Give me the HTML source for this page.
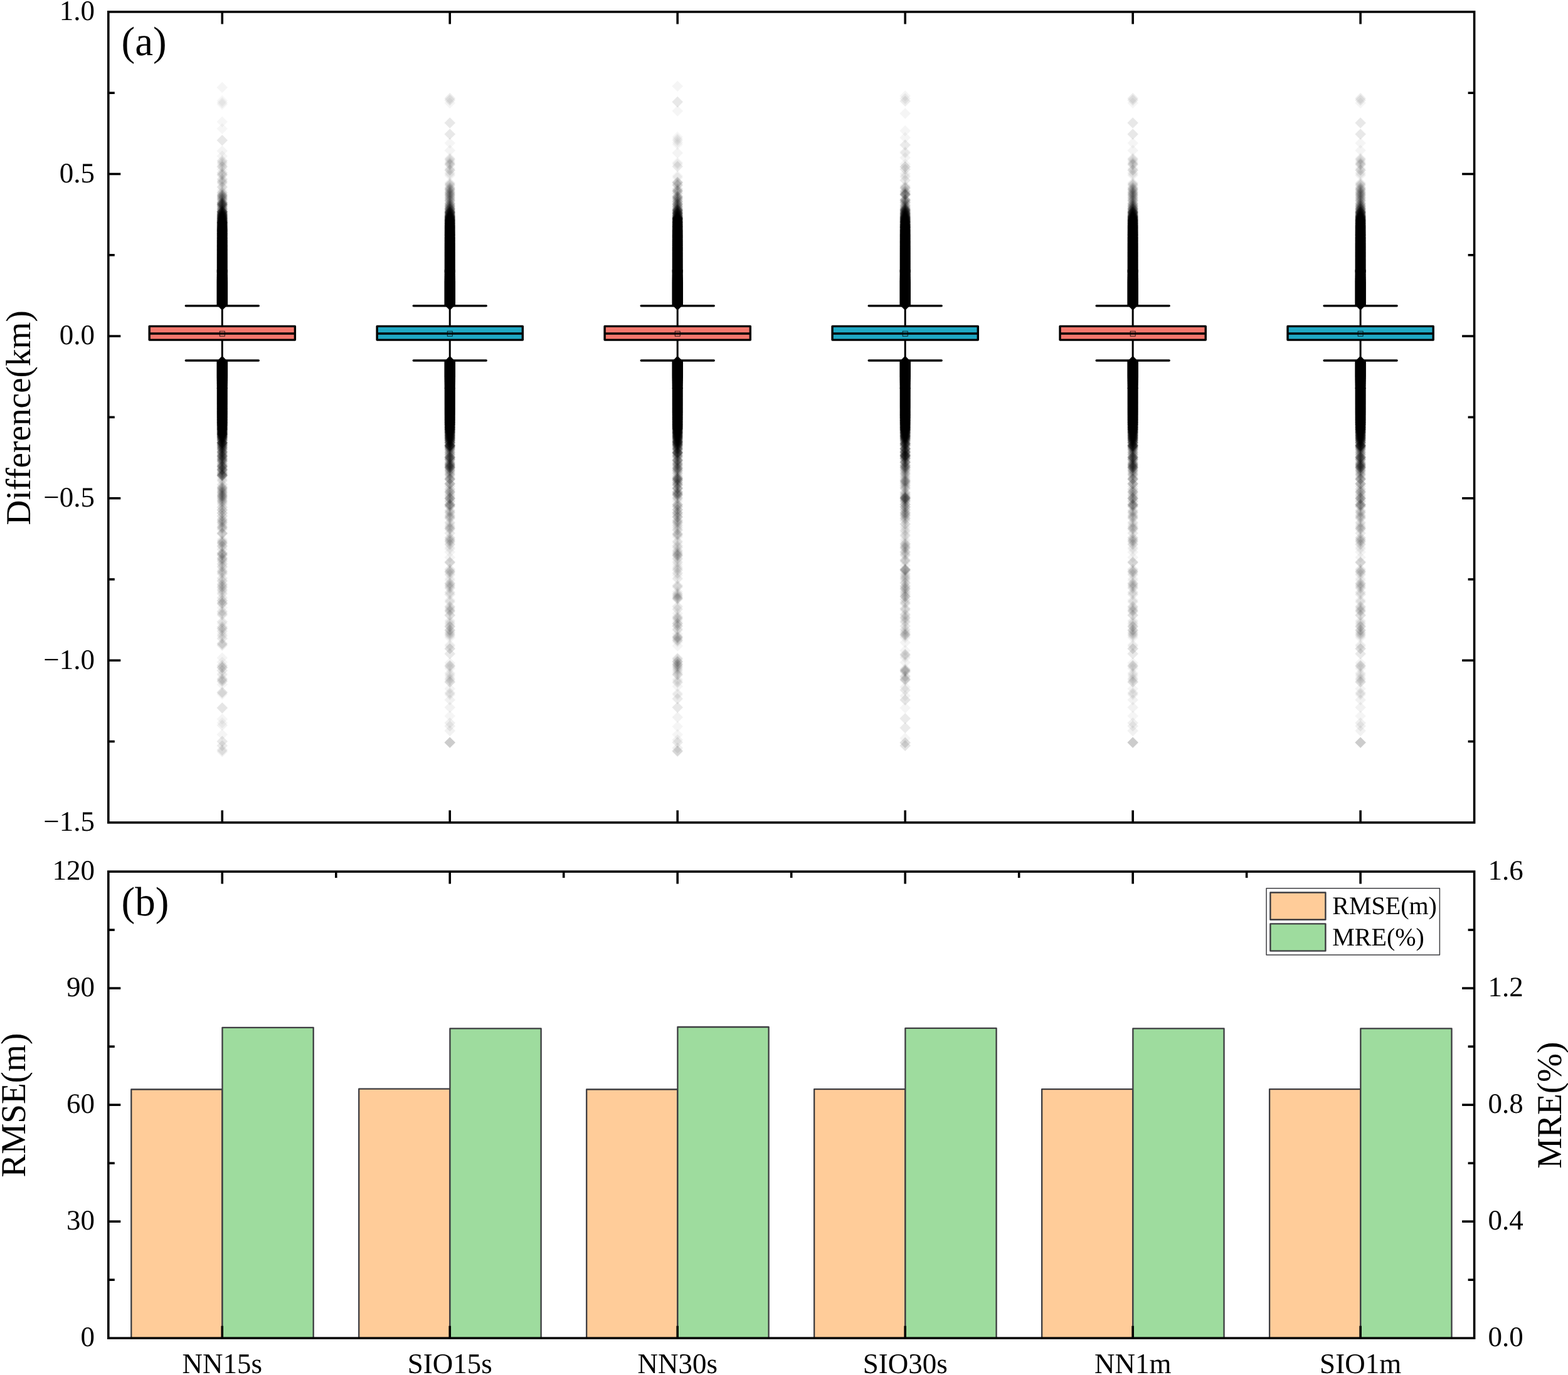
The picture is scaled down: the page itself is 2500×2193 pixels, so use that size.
<!DOCTYPE html>
<html lang="en"><head><meta charset="utf-8"><title>Difference, RMSE and MRE by model</title>
<style>html,body{margin:0;padding:0;background:#fff}body{width:2500px;height:2193px;overflow:hidden}svg{display:block}text{font-family:"Liberation Serif",serif;fill:#000;text-rendering:geometricPrecision}.tk{font-size:45px}.ax{font-size:55.2px}.pl{font-size:65px}.lg{font-size:40px}</style></head><body>
<svg width="2500" height="2193" viewBox="0 0 2500 2193">
<rect width="2500" height="2193" fill="#fff"/>
<g stroke="#3C3C40" stroke-width="2.3" stroke-linejoin="round">
<rect x="209.28" y="1737.5" width="145.2" height="396.7" fill="#FFCC99"/>
<rect x="354.48" y="1638.8" width="145.2" height="495.4" fill="#9EDC9E"/>
<rect x="572.25" y="1736.7" width="145.2" height="397.5" fill="#FFCC99"/>
<rect x="717.45" y="1640.3" width="145.2" height="493.9" fill="#9EDC9E"/>
<rect x="935.22" y="1737.5" width="145.2" height="396.7" fill="#FFCC99"/>
<rect x="1080.42" y="1638" width="145.2" height="496.2" fill="#9EDC9E"/>
<rect x="1298.18" y="1737.1" width="145.2" height="397.1" fill="#FFCC99"/>
<rect x="1443.38" y="1639.9" width="145.2" height="494.3" fill="#9EDC9E"/>
<rect x="1661.15" y="1737.1" width="145.2" height="397.1" fill="#FFCC99"/>
<rect x="1806.35" y="1640.3" width="145.2" height="493.9" fill="#9EDC9E"/>
<rect x="2024.12" y="1737.1" width="145.2" height="397.1" fill="#FFCC99"/>
<rect x="2169.32" y="1640.3" width="145.2" height="493.9" fill="#9EDC9E"/>
</g>
<defs><path id="d" d="M0 -8.8 L8.8 0 L0 8.8 L-8.8 0Z"/></defs>
<g transform="translate(354.28 0)" fill="#000">
<path d="M-8.5 430 H8.5 L8.8 450 V486.3 L0 495.1 L-8.8 486.3 V450Z"/>
<path d="M0 567.6 L8.8 576.4 V600 L8.5 620 H-8.5 L-8.8 600 V576.4Z"/>
<use href="#d" y="139.4" opacity=".04"/>
<use href="#d" y="160.5" opacity=".03"/>
<use href="#d" y="163.7" opacity=".045"/>
<use href="#d" y="166.5" opacity=".03"/>
<use href="#d" y="194.2" opacity=".035"/>
<use href="#d" y="205.3" opacity=".035"/>
<use href="#d" y="223.7" opacity=".09"/>
<use href="#d" y="240.8" opacity=".042"/>
<use href="#d" y="248.9" opacity=".042"/>
<use href="#d" y="256" opacity=".042"/>
<use href="#d" y="256.7" opacity=".042"/>
<use href="#d" y="258.8" opacity=".042"/>
<use href="#d" y="260" opacity=".042"/>
<use href="#d" y="262.7" opacity=".042"/>
<use href="#d" y="265.4" opacity=".082"/>
<use href="#d" y="266.6" opacity=".042"/>
<use href="#d" y="270.3" opacity=".042"/>
<use href="#d" y="275.6" opacity=".082"/>
<use href="#d" y="278.3" opacity=".121"/>
<use href="#d" y="280.2" opacity=".042"/>
<use href="#d" y="285.4" opacity=".042"/>
<use href="#d" y="286.1" opacity=".042"/>
<use href="#d" y="288" opacity=".042"/>
<use href="#d" y="289.4" opacity=".042"/>
<use href="#d" y="290.3" opacity=".042"/>
<use href="#d" y="291.1" opacity=".042"/>
<use href="#d" y="292.8" opacity=".042"/>
<use href="#d" y="297" opacity=".042"/>
<use href="#d" y="298.5" opacity=".042"/>
<use href="#d" y="299.1" opacity=".042"/>
<use href="#d" y="303.3" opacity=".042"/>
<use href="#d" y="306.3" opacity=".042"/>
<use href="#d" y="307.2" opacity=".042"/>
<use href="#d" y="307.5" opacity=".042"/>
<use href="#d" y="309.5" opacity=".042"/>
<use href="#d" y="310" opacity=".042"/>
<use href="#d" y="310.7" opacity=".042"/>
<use href="#d" y="311.7" opacity=".158"/>
<use href="#d" y="313" opacity=".042"/>
<use href="#d" y="314.1" opacity=".158"/>
<use href="#d" y="316.2" opacity=".158"/>
<use href="#d" y="317.7" opacity=".042"/>
<use href="#d" y="318.5" opacity=".121"/>
<use href="#d" y="320.2" opacity=".082"/>
<use href="#d" y="322.3" opacity=".042"/>
<use href="#d" y="322.9" opacity=".193"/>
<use href="#d" y="324.1" opacity=".082"/>
<use href="#d" y="324.9" opacity=".227"/>
<use href="#d" y="326.2" opacity=".227"/>
<use href="#d" y="327" opacity=".158"/>
<use href="#d" y="328.1" opacity=".121"/>
<use href="#d" y="329.5" opacity=".193"/>
<use href="#d" y="330.9" opacity=".082"/>
<use href="#d" y="331.7" opacity=".042"/>
<use href="#d" y="332.8" opacity=".193"/>
<use href="#d" y="334.1" opacity=".082"/>
<use href="#d" y="334.7" opacity=".193"/>
<use href="#d" y="336.5" opacity=".121"/>
<use href="#d" y="337.4" opacity=".259"/>
<use href="#d" y="337.7" opacity=".32"/>
<use href="#d" y="339" opacity=".243"/>
<use href="#d" y="340" opacity=".269"/>
<use href="#d" y="341" opacity=".31"/>
<use href="#d" y="342" opacity=".262"/>
<use href="#d" y="343" opacity=".43"/>
<use href="#d" y="344" opacity=".322"/>
<use href="#d" y="345" opacity=".348"/>
<use href="#d" y="346" opacity=".428"/>
<use href="#d" y="347" opacity=".374"/>
<use href="#d" y="348" opacity=".395"/>
<use href="#d" y="349" opacity=".537"/>
<use href="#d" y="350" opacity=".335"/>
<use href="#d" y="351" opacity=".432"/>
<use href="#d" y="352" opacity=".532"/>
<use href="#d" y="353" opacity=".438"/>
<use href="#d" y="354" opacity=".549"/>
<use href="#d" y="355" opacity=".78"/>
<use href="#d" y="356" opacity=".533"/>
<use href="#d" y="357" opacity=".612"/>
<use href="#d" y="358" opacity=".546"/>
<use href="#d" y="359" opacity=".585"/>
<use href="#d" y="360" opacity=".612"/>
<use href="#d" y="361" opacity=".603"/>
<use href="#d" y="362" opacity=".656"/>
<use href="#d" y="363" opacity=".692"/>
<use href="#d" y="364" opacity=".627"/>
<use href="#d" y="365" opacity=".794"/>
<use href="#d" y="366" opacity=".754"/>
<use href="#d" y="367" opacity=".772"/>
<use href="#d" y="368" opacity=".859"/>
<use href="#d" y="369" opacity=".775"/>
<use href="#d" y="370" opacity=".747"/>
<use href="#d" y="371" opacity=".712"/>
<use href="#d" y="372" opacity=".768"/>
<use href="#d" y="373" opacity=".927"/>
<use href="#d" y="374" opacity=".673"/>
<use href="#d" y="375" opacity=".828"/>
<use href="#d" y="376" opacity=".8"/>
<use href="#d" y="377" opacity=".706"/>
<use href="#d" y="378" opacity=".723"/>
<use href="#d" y="379" opacity=".849"/>
<use href="#d" y="380" opacity=".817"/>
<use href="#d" y="381" opacity=".884"/>
<use href="#d" y="382" opacity=".623"/>
<use href="#d" y="383" opacity=".967"/>
<use href="#d" y="384" opacity=".906"/>
<use href="#d" y="385" opacity=".878"/>
<use href="#d" y="386" opacity=".889"/>
<use href="#d" y="387" opacity=".966"/>
<use href="#d" y="388" opacity=".763"/>
<use href="#d" y="389" opacity=".958"/>
<use href="#d" y="390" opacity=".81"/>
<use href="#d" y="391" opacity=".952"/>
<use href="#d" y="392" opacity=".978"/>
<use href="#d" y="393" opacity=".963"/>
<use href="#d" y="394" opacity=".941"/>
<use href="#d" y="395" opacity=".9"/>
<use href="#d" y="396" opacity=".936"/>
<use href="#d" y="397" opacity=".947"/>
<use href="#d" y="398" opacity=".993"/>
<use href="#d" y="399" opacity=".999"/>
<use href="#d" y="400" opacity=".936"/>
<use href="#d" y="401" opacity=".925"/>
<use href="#d" y="402" opacity=".945"/>
<use href="#d" y="403" opacity=".935"/>
<use href="#d" y="404" opacity=".946"/>
<use href="#d" y="405" opacity=".939"/>
<use href="#d" y="406" opacity=".987"/>
<use href="#d" y="407" opacity=".982"/>
<use href="#d" y="408" opacity=".949"/>
<use href="#d" y="409" opacity=".985"/>
<use href="#d" y="410" opacity=".983"/>
<use href="#d" y="411" opacity=".988"/>
<use href="#d" y="412" opacity=".993"/>
<use href="#d" y="413" opacity=".989"/>
<use href="#d" y="414" opacity=".998"/>
<use href="#d" y="415" opacity=".984"/>
<use href="#d" y="416" opacity=".985"/>
<use href="#d" y="417" opacity=".988"/>
<use href="#d" y="418" opacity=".999"/>
<use href="#d" y="419" opacity=".998"/>
<use href="#d" y="420" opacity="1"/>
<use href="#d" y="421" opacity=".975"/>
<use href="#d" y="422" opacity=".998"/>
<use href="#d" y="423" opacity=".998"/>
<use href="#d" y="424" opacity=".996"/>
<use href="#d" y="425" opacity=".995"/>
<use href="#d" y="426" opacity=".998"/>
<use href="#d" y="427" opacity=".997"/>
<use href="#d" y="428" opacity=".988"/>
<use href="#d" y="429" opacity=".997"/>
<use href="#d" y="430" opacity=".997"/>
<use href="#d" y="431" opacity=".999"/>
<use href="#d" y="432" opacity=".994"/>
<use href="#d" y="433" opacity=".997"/>
<use href="#d" y="434" opacity=".986"/>
<use href="#d" y="619" opacity=".999"/>
<use href="#d" y="620" opacity="1"/>
<use href="#d" y="621" opacity=".989"/>
<use href="#d" y="622" opacity=".989"/>
<use href="#d" y="623" opacity="1"/>
<use href="#d" y="624" opacity="1"/>
<use href="#d" y="625" opacity=".999"/>
<use href="#d" y="626" opacity=".998"/>
<use href="#d" y="627" opacity=".998"/>
<use href="#d" y="628" opacity="1"/>
<use href="#d" y="629" opacity=".994"/>
<use href="#d" y="630" opacity=".999"/>
<use href="#d" y="631" opacity=".992"/>
<use href="#d" y="632" opacity=".992"/>
<use href="#d" y="633" opacity=".993"/>
<use href="#d" y="634" opacity=".987"/>
<use href="#d" y="635" opacity=".981"/>
<use href="#d" y="636" opacity=".99"/>
<use href="#d" y="637" opacity=".994"/>
<use href="#d" y="638" opacity=".997"/>
<use href="#d" y="639" opacity=".969"/>
<use href="#d" y="640" opacity=".991"/>
<use href="#d" y="641" opacity=".959"/>
<use href="#d" y="642" opacity=".991"/>
<use href="#d" y="643" opacity=".987"/>
<use href="#d" y="644" opacity=".988"/>
<use href="#d" y="645" opacity=".947"/>
<use href="#d" y="646" opacity=".94"/>
<use href="#d" y="647" opacity=".89"/>
<use href="#d" y="648" opacity=".958"/>
<use href="#d" y="649" opacity=".902"/>
<use href="#d" y="650" opacity=".91"/>
<use href="#d" y="651" opacity=".966"/>
<use href="#d" y="652" opacity=".991"/>
<use href="#d" y="653" opacity=".976"/>
<use href="#d" y="654" opacity=".836"/>
<use href="#d" y="655" opacity=".931"/>
<use href="#d" y="656" opacity=".969"/>
<use href="#d" y="657" opacity=".959"/>
<use href="#d" y="658" opacity=".91"/>
<use href="#d" y="659" opacity=".985"/>
<use href="#d" y="660" opacity=".909"/>
<use href="#d" y="661" opacity=".927"/>
<use href="#d" y="662" opacity=".921"/>
<use href="#d" y="663" opacity=".873"/>
<use href="#d" y="664" opacity=".814"/>
<use href="#d" y="665" opacity=".944"/>
<use href="#d" y="666" opacity=".914"/>
<use href="#d" y="667" opacity=".705"/>
<use href="#d" y="668" opacity=".881"/>
<use href="#d" y="669" opacity=".862"/>
<use href="#d" y="670" opacity=".851"/>
<use href="#d" y="671" opacity=".776"/>
<use href="#d" y="672" opacity=".754"/>
<use href="#d" y="673" opacity=".793"/>
<use href="#d" y="674" opacity=".855"/>
<use href="#d" y="675" opacity=".895"/>
<use href="#d" y="676" opacity=".583"/>
<use href="#d" y="677" opacity=".773"/>
<use href="#d" y="678" opacity=".751"/>
<use href="#d" y="679" opacity=".671"/>
<use href="#d" y="680" opacity=".542"/>
<use href="#d" y="681" opacity=".611"/>
<use href="#d" y="682" opacity=".565"/>
<use href="#d" y="683" opacity=".636"/>
<use href="#d" y="684" opacity=".592"/>
<use href="#d" y="685" opacity=".663"/>
<use href="#d" y="686" opacity=".555"/>
<use href="#d" y="687" opacity=".4"/>
<use href="#d" y="688" opacity=".474"/>
<use href="#d" y="689" opacity=".496"/>
<use href="#d" y="690" opacity=".485"/>
<use href="#d" y="691" opacity=".467"/>
<use href="#d" y="692" opacity=".558"/>
<use href="#d" y="693" opacity=".575"/>
<use href="#d" y="694" opacity=".355"/>
<use href="#d" y="695" opacity=".37"/>
<use href="#d" y="696" opacity=".347"/>
<use href="#d" y="697" opacity=".393"/>
<use href="#d" y="698" opacity=".282"/>
<use href="#d" y="699" opacity=".294"/>
<use href="#d" y="700" opacity=".227"/>
<use href="#d" y="701" opacity=".202"/>
<use href="#d" y="702" opacity=".263"/>
<use href="#d" y="703" opacity=".18"/>
<use href="#d" y="704" opacity=".121"/>
<use href="#d" y="705.4" opacity=".193"/>
<use href="#d" y="706.3" opacity=".402"/>
<use href="#d" y="706.8" opacity=".291"/>
<use href="#d" y="707.9" opacity=".042"/>
<use href="#d" y="709" opacity=".259"/>
<use href="#d" y="710.1" opacity=".227"/>
<use href="#d" y="710.7" opacity=".121"/>
<use href="#d" y="712.4" opacity=".082"/>
<use href="#d" y="713.1" opacity=".259"/>
<use href="#d" y="714" opacity=".121"/>
<use href="#d" y="715.4" opacity=".121"/>
<use href="#d" y="716.2" opacity=".158"/>
<use href="#d" y="716.5" opacity=".121"/>
<use href="#d" y="717.7" opacity=".042"/>
<use href="#d" y="719.5" opacity=".158"/>
<use href="#d" y="720" opacity=".121"/>
<use href="#d" y="721.5" opacity=".193"/>
<use href="#d" y="722" opacity=".121"/>
<use href="#d" y="723" opacity=".042"/>
<use href="#d" y="724" opacity=".082"/>
<use href="#d" y="725" opacity=".121"/>
<use href="#d" y="726.4" opacity=".158"/>
<use href="#d" y="727.2" opacity=".121"/>
<use href="#d" y="727.7" opacity=".158"/>
<use href="#d" y="728.6" opacity=".121"/>
<use href="#d" y="730" opacity=".121"/>
<use href="#d" y="731.2" opacity=".042"/>
<use href="#d" y="731.7" opacity=".121"/>
<use href="#d" y="732.6" opacity=".121"/>
<use href="#d" y="733.8" opacity=".158"/>
<use href="#d" y="735" opacity=".158"/>
<use href="#d" y="736.4" opacity=".158"/>
<use href="#d" y="739.3" opacity=".121"/>
<use href="#d" y="740.8" opacity=".082"/>
<use href="#d" y="741.9" opacity=".121"/>
<use href="#d" y="743.2" opacity=".082"/>
<use href="#d" y="743.8" opacity=".227"/>
<use href="#d" y="744.9" opacity=".121"/>
<use href="#d" y="745.9" opacity=".042"/>
<use href="#d" y="747.1" opacity=".042"/>
<use href="#d" y="748.3" opacity=".158"/>
<use href="#d" y="749" opacity=".082"/>
<use href="#d" y="749.6" opacity=".158"/>
<use href="#d" y="750.6" opacity=".082"/>
<use href="#d" y="752.1" opacity=".082"/>
<use href="#d" y="753.7" opacity=".082"/>
<use href="#d" y="754.8" opacity=".121"/>
<use href="#d" y="756.2" opacity=".121"/>
<use href="#d" y="757.2" opacity=".121"/>
<use href="#d" y="758.2" opacity=".227"/>
<use href="#d" y="758.6" opacity=".082"/>
<use href="#d" y="759.7" opacity=".082"/>
<use href="#d" y="762.5" opacity=".042"/>
<use href="#d" y="765.6" opacity=".082"/>
<use href="#d" y="767.4" opacity=".042"/>
<use href="#d" y="772.7" opacity=".082"/>
<use href="#d" y="776" opacity=".042"/>
<use href="#d" y="776.8" opacity=".042"/>
<use href="#d" y="778" opacity=".082"/>
<use href="#d" y="778.5" opacity=".082"/>
<use href="#d" y="780" opacity=".082"/>
<use href="#d" y="781.5" opacity=".042"/>
<use href="#d" y="781.5" opacity=".042"/>
<use href="#d" y="783.3" opacity=".042"/>
<use href="#d" y="783.7" opacity=".082"/>
<use href="#d" y="785.4" opacity=".042"/>
<use href="#d" y="786" opacity=".121"/>
<use href="#d" y="788.3" opacity=".042"/>
<use href="#d" y="788.8" opacity=".082"/>
<use href="#d" y="790" opacity=".042"/>
<use href="#d" y="790.8" opacity=".121"/>
<use href="#d" y="792.3" opacity=".121"/>
<use href="#d" y="794.3" opacity=".082"/>
<use href="#d" y="794.6" opacity=".042"/>
<use href="#d" y="796.2" opacity=".042"/>
<use href="#d" y="796.6" opacity=".042"/>
<use href="#d" y="798.5" opacity=".042"/>
<use href="#d" y="798.9" opacity=".082"/>
<use href="#d" y="800.1" opacity=".042"/>
<use href="#d" y="801.5" opacity=".042"/>
<use href="#d" y="802.1" opacity=".042"/>
<use href="#d" y="803.8" opacity=".042"/>
<use href="#d" y="805.2" opacity=".042"/>
<use href="#d" y="808.4" opacity=".042"/>
<use href="#d" y="809.3" opacity=".082"/>
<use href="#d" y="812.9" opacity=".082"/>
<use href="#d" y="813.7" opacity=".082"/>
<use href="#d" y="817.4" opacity=".042"/>
<use href="#d" y="818.1" opacity=".042"/>
<use href="#d" y="818.8" opacity=".082"/>
<use href="#d" y="823.1" opacity=".121"/>
<use href="#d" y="826.9" opacity=".042"/>
<use href="#d" y="828.3" opacity=".042"/>
<use href="#d" y="829.3" opacity=".042"/>
<use href="#d" y="830" opacity=".082"/>
<use href="#d" y="832.2" opacity=".082"/>
<use href="#d" y="833.4" opacity=".042"/>
<use href="#d" y="833.6" opacity=".042"/>
<use href="#d" y="835.8" opacity=".042"/>
<use href="#d" y="837" opacity=".042"/>
<use href="#d" y="839.4" opacity=".042"/>
<use href="#d" y="840.1" opacity=".042"/>
<use href="#d" y="841.6" opacity=".121"/>
<use href="#d" y="843.4" opacity=".042"/>
<use href="#d" y="844.7" opacity=".042"/>
<use href="#d" y="850.2" opacity=".121"/>
<use href="#d" y="851.1" opacity=".042"/>
<use href="#d" y="851.7" opacity=".042"/>
<use href="#d" y="860.1" opacity=".042"/>
<use href="#d" y="862.5" opacity=".042"/>
<use href="#d" y="862.9" opacity=".042"/>
<use href="#d" y="864.3" opacity=".042"/>
<use href="#d" y="865.5" opacity=".042"/>
<use href="#d" y="865.9" opacity=".082"/>
<use href="#d" y="867" opacity=".042"/>
<use href="#d" y="869.6" opacity=".042"/>
<use href="#d" y="871.1" opacity=".082"/>
<use href="#d" y="872.1" opacity=".042"/>
<use href="#d" y="875.6" opacity=".042"/>
<use href="#d" y="876.7" opacity=".042"/>
<use href="#d" y="882.3" opacity=".158"/>
<use href="#d" y="884.3" opacity=".121"/>
<use href="#d" y="885.7" opacity=".082"/>
<use href="#d" y="889.9" opacity=".082"/>
<use href="#d" y="890.5" opacity=".042"/>
<use href="#d" y="892" opacity=".042"/>
<use href="#d" y="892.7" opacity=".082"/>
<use href="#d" y="895.3" opacity=".082"/>
<use href="#d" y="899.1" opacity=".082"/>
<use href="#d" y="900.6" opacity=".042"/>
<use href="#d" y="903.6" opacity=".082"/>
<use href="#d" y="904.9" opacity=".042"/>
<use href="#d" y="908.7" opacity=".042"/>
<use href="#d" y="910.9" opacity=".042"/>
<use href="#d" y="911.7" opacity=".082"/>
<use href="#d" y="914.1" opacity=".082"/>
<use href="#d" y="916" opacity=".042"/>
<use href="#d" y="921.8" opacity=".042"/>
<use href="#d" y="922.8" opacity=".042"/>
<use href="#d" y="926" opacity=".082"/>
<use href="#d" y="927.4" opacity=".042"/>
<use href="#d" y="931.2" opacity=".042"/>
<use href="#d" y="932" opacity=".042"/>
<use href="#d" y="933" opacity=".042"/>
<use href="#d" y="934.3" opacity=".042"/>
<use href="#d" y="935.9" opacity=".042"/>
<use href="#d" y="936.7" opacity=".082"/>
<use href="#d" y="939.5" opacity=".042"/>
<use href="#d" y="941.1" opacity=".042"/>
<use href="#d" y="941.7" opacity=".042"/>
<use href="#d" y="943.9" opacity=".042"/>
<use href="#d" y="946.4" opacity=".042"/>
<use href="#d" y="947.3" opacity=".042"/>
<use href="#d" y="952.8" opacity=".042"/>
<use href="#d" y="954.3" opacity=".042"/>
<use href="#d" y="957.9" opacity=".121"/>
<use href="#d" y="961" opacity=".042"/>
<use href="#d" y="962" opacity=".082"/>
<use href="#d" y="962.7" opacity=".042"/>
<use href="#d" y="963.9" opacity=".042"/>
<use href="#d" y="969.2" opacity=".042"/>
<use href="#d" y="974.8" opacity=".042"/>
<use href="#d" y="975.5" opacity=".042"/>
<use href="#d" y="977.8" opacity=".042"/>
<use href="#d" y="979.1" opacity=".042"/>
<use href="#d" y="979.9" opacity=".042"/>
<use href="#d" y="981.3" opacity=".042"/>
<use href="#d" y="991.7" opacity=".082"/>
<use href="#d" y="994.8" opacity=".042"/>
<use href="#d" y="999.9" opacity=".082"/>
<use href="#d" y="1002.3" opacity=".042"/>
<use href="#d" y="1002.8" opacity=".082"/>
<use href="#d" y="1006.3" opacity=".042"/>
<use href="#d" y="1006.9" opacity=".042"/>
<use href="#d" y="1010.8" opacity=".042"/>
<use href="#d" y="1013.2" opacity=".042"/>
<use href="#d" y="1014.6" opacity=".042"/>
<use href="#d" y="1017.9" opacity=".042"/>
<use href="#d" y="1018.8" opacity=".042"/>
<use href="#d" y="1026.2" opacity=".082"/>
<use href="#d" y="1027.2" opacity=".042"/>
<use href="#d" y="1029.1" opacity=".082"/>
<use href="#d" y="1049.2" opacity=".042"/>
<use href="#d" y="1056" opacity=".042"/>
<use href="#d" y="1061.2" opacity=".082"/>
<use href="#d" y="1064.1" opacity=".082"/>
<use href="#d" y="1065.1" opacity=".082"/>
<use href="#d" y="1069.4" opacity=".082"/>
<use href="#d" y="1074.7" opacity=".042"/>
<use href="#d" y="1076.5" opacity=".042"/>
<use href="#d" y="1082.1" opacity=".042"/>
<use href="#d" y="1083.8" opacity=".082"/>
<use href="#d" y="1085.2" opacity=".042"/>
<use href="#d" y="1086.5" opacity=".042"/>
<use href="#d" y="1087.1" opacity=".042"/>
<use href="#d" y="1091.7" opacity=".042"/>
<use href="#d" y="1103.7" opacity=".042"/>
<use href="#d" y="1104.8" opacity=".082"/>
<use href="#d" y="1107.2" opacity=".042"/>
<use href="#d" y="1129.1" opacity=".1"/>
<use href="#d" y="1146.9" opacity=".04"/>
<use href="#d" y="1152.8" opacity=".04"/>
<use href="#d" y="1156.7" opacity=".05"/>
<use href="#d" y="1171.5" opacity=".04"/>
<use href="#d" y="1182.4" opacity=".09"/>
<use href="#d" y="1189.3" opacity=".08"/>
<use href="#d" y="1196.2" opacity=".08"/>
<use href="#d" y="1198.8" opacity=".06"/>
</g>
<g transform="translate(717.25 0)" fill="#000">
<path d="M-8.5 430 H8.5 L8.8 450 V486.3 L0 495.1 L-8.8 486.3 V450Z"/>
<path d="M0 567.6 L8.8 576.4 V600 L8.5 620 H-8.5 L-8.8 600 V576.4Z"/>
<use href="#d" y="156.9" opacity=".07"/>
<use href="#d" y="159.7" opacity=".07"/>
<use href="#d" y="164.2" opacity=".04"/>
<use href="#d" y="196" opacity=".09"/>
<use href="#d" y="214" opacity=".09"/>
<use href="#d" y="228.3" opacity=".04"/>
<use href="#d" y="239.9" opacity=".042"/>
<use href="#d" y="252.4" opacity=".042"/>
<use href="#d" y="254.1" opacity=".042"/>
<use href="#d" y="254.6" opacity=".042"/>
<use href="#d" y="257.1" opacity=".042"/>
<use href="#d" y="259.5" opacity=".042"/>
<use href="#d" y="260.7" opacity=".042"/>
<use href="#d" y="261.6" opacity=".042"/>
<use href="#d" y="262.7" opacity=".082"/>
<use href="#d" y="268.5" opacity=".042"/>
<use href="#d" y="271.3" opacity=".082"/>
<use href="#d" y="271.6" opacity=".042"/>
<use href="#d" y="275.4" opacity=".042"/>
<use href="#d" y="277.5" opacity=".042"/>
<use href="#d" y="279.8" opacity=".042"/>
<use href="#d" y="291.6" opacity=".042"/>
<use href="#d" y="293.1" opacity=".042"/>
<use href="#d" y="293.7" opacity=".042"/>
<use href="#d" y="295.2" opacity=".082"/>
<use href="#d" y="297.9" opacity=".042"/>
<use href="#d" y="299.9" opacity=".121"/>
<use href="#d" y="302.1" opacity=".121"/>
<use href="#d" y="302.7" opacity=".042"/>
<use href="#d" y="303.8" opacity=".042"/>
<use href="#d" y="305.1" opacity=".042"/>
<use href="#d" y="305.8" opacity=".042"/>
<use href="#d" y="306.7" opacity=".082"/>
<use href="#d" y="307.9" opacity=".082"/>
<use href="#d" y="308.9" opacity=".082"/>
<use href="#d" y="310.4" opacity=".082"/>
<use href="#d" y="311.2" opacity=".082"/>
<use href="#d" y="312" opacity=".042"/>
<use href="#d" y="312.9" opacity=".042"/>
<use href="#d" y="314.6" opacity=".121"/>
<use href="#d" y="316.3" opacity=".082"/>
<use href="#d" y="317.2" opacity=".042"/>
<use href="#d" y="317.5" opacity=".042"/>
<use href="#d" y="319.5" opacity=".082"/>
<use href="#d" y="319.6" opacity=".082"/>
<use href="#d" y="321.2" opacity=".042"/>
<use href="#d" y="321.6" opacity=".042"/>
<use href="#d" y="323.3" opacity=".042"/>
<use href="#d" y="324.5" opacity=".121"/>
<use href="#d" y="324.9" opacity=".042"/>
<use href="#d" y="326" opacity=".082"/>
<use href="#d" y="326.8" opacity=".042"/>
<use href="#d" y="327.8" opacity=".121"/>
<use href="#d" y="328.9" opacity=".121"/>
<use href="#d" y="329.8" opacity=".121"/>
<use href="#d" y="331.3" opacity=".121"/>
<use href="#d" y="332.4" opacity=".193"/>
<use href="#d" y="333.2" opacity=".082"/>
<use href="#d" y="333.7" opacity=".158"/>
<use href="#d" y="334.9" opacity=".158"/>
<use href="#d" y="335.7" opacity=".158"/>
<use href="#d" y="337.3" opacity=".227"/>
<use href="#d" y="338.3" opacity=".349"/>
<use href="#d" y="339" opacity=".249"/>
<use href="#d" y="340" opacity=".205"/>
<use href="#d" y="341" opacity=".328"/>
<use href="#d" y="342" opacity=".189"/>
<use href="#d" y="343" opacity=".264"/>
<use href="#d" y="344" opacity=".348"/>
<use href="#d" y="345" opacity=".434"/>
<use href="#d" y="346" opacity=".421"/>
<use href="#d" y="347" opacity=".46"/>
<use href="#d" y="348" opacity=".498"/>
<use href="#d" y="349" opacity=".417"/>
<use href="#d" y="350" opacity=".508"/>
<use href="#d" y="351" opacity=".666"/>
<use href="#d" y="352" opacity=".554"/>
<use href="#d" y="353" opacity=".551"/>
<use href="#d" y="354" opacity=".614"/>
<use href="#d" y="355" opacity=".585"/>
<use href="#d" y="356" opacity=".52"/>
<use href="#d" y="357" opacity=".782"/>
<use href="#d" y="358" opacity=".465"/>
<use href="#d" y="359" opacity=".609"/>
<use href="#d" y="360" opacity=".787"/>
<use href="#d" y="361" opacity=".615"/>
<use href="#d" y="362" opacity=".767"/>
<use href="#d" y="363" opacity=".645"/>
<use href="#d" y="364" opacity=".834"/>
<use href="#d" y="365" opacity=".564"/>
<use href="#d" y="366" opacity=".754"/>
<use href="#d" y="367" opacity=".725"/>
<use href="#d" y="368" opacity=".708"/>
<use href="#d" y="369" opacity=".731"/>
<use href="#d" y="370" opacity=".774"/>
<use href="#d" y="371" opacity=".738"/>
<use href="#d" y="372" opacity=".813"/>
<use href="#d" y="373" opacity=".719"/>
<use href="#d" y="374" opacity=".873"/>
<use href="#d" y="375" opacity=".885"/>
<use href="#d" y="376" opacity=".812"/>
<use href="#d" y="377" opacity=".656"/>
<use href="#d" y="378" opacity=".783"/>
<use href="#d" y="379" opacity=".904"/>
<use href="#d" y="380" opacity=".924"/>
<use href="#d" y="381" opacity=".831"/>
<use href="#d" y="382" opacity=".801"/>
<use href="#d" y="383" opacity=".951"/>
<use href="#d" y="384" opacity=".831"/>
<use href="#d" y="385" opacity=".915"/>
<use href="#d" y="386" opacity=".85"/>
<use href="#d" y="387" opacity=".841"/>
<use href="#d" y="388" opacity=".922"/>
<use href="#d" y="389" opacity=".963"/>
<use href="#d" y="390" opacity=".903"/>
<use href="#d" y="391" opacity=".928"/>
<use href="#d" y="392" opacity=".936"/>
<use href="#d" y="393" opacity=".951"/>
<use href="#d" y="394" opacity=".944"/>
<use href="#d" y="395" opacity=".986"/>
<use href="#d" y="396" opacity=".907"/>
<use href="#d" y="397" opacity=".968"/>
<use href="#d" y="398" opacity=".961"/>
<use href="#d" y="399" opacity=".97"/>
<use href="#d" y="400" opacity=".898"/>
<use href="#d" y="401" opacity=".906"/>
<use href="#d" y="402" opacity=".957"/>
<use href="#d" y="403" opacity=".981"/>
<use href="#d" y="404" opacity=".989"/>
<use href="#d" y="405" opacity=".95"/>
<use href="#d" y="406" opacity=".963"/>
<use href="#d" y="407" opacity=".992"/>
<use href="#d" y="408" opacity=".955"/>
<use href="#d" y="409" opacity=".996"/>
<use href="#d" y="410" opacity=".954"/>
<use href="#d" y="411" opacity=".928"/>
<use href="#d" y="412" opacity=".928"/>
<use href="#d" y="413" opacity=".973"/>
<use href="#d" y="414" opacity=".962"/>
<use href="#d" y="415" opacity=".995"/>
<use href="#d" y="416" opacity=".999"/>
<use href="#d" y="417" opacity=".978"/>
<use href="#d" y="418" opacity=".992"/>
<use href="#d" y="419" opacity=".997"/>
<use href="#d" y="420" opacity=".981"/>
<use href="#d" y="421" opacity=".998"/>
<use href="#d" y="422" opacity=".999"/>
<use href="#d" y="423" opacity=".996"/>
<use href="#d" y="424" opacity=".995"/>
<use href="#d" y="425" opacity=".998"/>
<use href="#d" y="426" opacity=".994"/>
<use href="#d" y="427" opacity=".999"/>
<use href="#d" y="428" opacity=".999"/>
<use href="#d" y="429" opacity=".999"/>
<use href="#d" y="430" opacity=".993"/>
<use href="#d" y="431" opacity="1"/>
<use href="#d" y="432" opacity="1"/>
<use href="#d" y="433" opacity=".997"/>
<use href="#d" y="434" opacity="1"/>
<use href="#d" y="619" opacity="1"/>
<use href="#d" y="620" opacity=".997"/>
<use href="#d" y="621" opacity=".991"/>
<use href="#d" y="622" opacity=".994"/>
<use href="#d" y="623" opacity=".997"/>
<use href="#d" y="624" opacity=".969"/>
<use href="#d" y="625" opacity=".999"/>
<use href="#d" y="626" opacity=".996"/>
<use href="#d" y="627" opacity=".991"/>
<use href="#d" y="628" opacity=".997"/>
<use href="#d" y="629" opacity=".998"/>
<use href="#d" y="630" opacity=".999"/>
<use href="#d" y="631" opacity="1"/>
<use href="#d" y="632" opacity=".993"/>
<use href="#d" y="633" opacity=".997"/>
<use href="#d" y="634" opacity=".996"/>
<use href="#d" y="635" opacity=".966"/>
<use href="#d" y="636" opacity=".999"/>
<use href="#d" y="637" opacity=".981"/>
<use href="#d" y="638" opacity=".99"/>
<use href="#d" y="639" opacity=".974"/>
<use href="#d" y="640" opacity=".982"/>
<use href="#d" y="641" opacity=".997"/>
<use href="#d" y="642" opacity=".987"/>
<use href="#d" y="643" opacity=".998"/>
<use href="#d" y="644" opacity=".976"/>
<use href="#d" y="645" opacity=".975"/>
<use href="#d" y="646" opacity=".958"/>
<use href="#d" y="647" opacity=".923"/>
<use href="#d" y="648" opacity=".952"/>
<use href="#d" y="649" opacity=".968"/>
<use href="#d" y="650" opacity=".919"/>
<use href="#d" y="651" opacity=".996"/>
<use href="#d" y="652" opacity=".977"/>
<use href="#d" y="653" opacity=".947"/>
<use href="#d" y="654" opacity=".989"/>
<use href="#d" y="655" opacity=".852"/>
<use href="#d" y="656" opacity=".956"/>
<use href="#d" y="657" opacity=".924"/>
<use href="#d" y="658" opacity=".943"/>
<use href="#d" y="659" opacity=".856"/>
<use href="#d" y="660" opacity=".935"/>
<use href="#d" y="661" opacity=".915"/>
<use href="#d" y="662" opacity=".823"/>
<use href="#d" y="663" opacity=".848"/>
<use href="#d" y="664" opacity=".808"/>
<use href="#d" y="665" opacity=".854"/>
<use href="#d" y="666" opacity=".8"/>
<use href="#d" y="667" opacity=".939"/>
<use href="#d" y="668" opacity=".682"/>
<use href="#d" y="669" opacity=".933"/>
<use href="#d" y="670" opacity=".819"/>
<use href="#d" y="671" opacity=".804"/>
<use href="#d" y="672" opacity=".633"/>
<use href="#d" y="673" opacity=".855"/>
<use href="#d" y="674" opacity=".823"/>
<use href="#d" y="675" opacity=".742"/>
<use href="#d" y="676" opacity=".583"/>
<use href="#d" y="677" opacity=".883"/>
<use href="#d" y="678" opacity=".63"/>
<use href="#d" y="679" opacity=".527"/>
<use href="#d" y="680" opacity=".497"/>
<use href="#d" y="681" opacity=".682"/>
<use href="#d" y="682" opacity=".68"/>
<use href="#d" y="683" opacity=".49"/>
<use href="#d" y="684" opacity=".553"/>
<use href="#d" y="685" opacity=".675"/>
<use href="#d" y="686" opacity=".492"/>
<use href="#d" y="687" opacity=".422"/>
<use href="#d" y="688" opacity=".406"/>
<use href="#d" y="689" opacity=".546"/>
<use href="#d" y="690" opacity=".415"/>
<use href="#d" y="691" opacity=".415"/>
<use href="#d" y="692" opacity=".308"/>
<use href="#d" y="693" opacity=".331"/>
<use href="#d" y="694" opacity=".404"/>
<use href="#d" y="695" opacity=".355"/>
<use href="#d" y="696" opacity=".341"/>
<use href="#d" y="697" opacity=".29"/>
<use href="#d" y="698" opacity=".351"/>
<use href="#d" y="699" opacity=".355"/>
<use href="#d" y="700" opacity=".309"/>
<use href="#d" y="701" opacity=".195"/>
<use href="#d" y="702" opacity=".365"/>
<use href="#d" y="703" opacity=".252"/>
<use href="#d" y="704.4" opacity=".227"/>
<use href="#d" y="705.4" opacity=".158"/>
<use href="#d" y="706.3" opacity=".349"/>
<use href="#d" y="707.3" opacity=".082"/>
<use href="#d" y="707.6" opacity=".042"/>
<use href="#d" y="709.2" opacity=".158"/>
<use href="#d" y="710" opacity=".349"/>
<use href="#d" y="711" opacity=".259"/>
<use href="#d" y="711.5" opacity=".259"/>
<use href="#d" y="713" opacity=".259"/>
<use href="#d" y="713.7" opacity=".158"/>
<use href="#d" y="714.9" opacity=".042"/>
<use href="#d" y="715.7" opacity=".158"/>
<use href="#d" y="716.7" opacity=".121"/>
<use href="#d" y="718" opacity=".082"/>
<use href="#d" y="718.9" opacity=".082"/>
<use href="#d" y="719.9" opacity=".042"/>
<use href="#d" y="721.4" opacity=".121"/>
<use href="#d" y="721.6" opacity=".082"/>
<use href="#d" y="722.7" opacity=".042"/>
<use href="#d" y="724.4" opacity=".042"/>
<use href="#d" y="724.5" opacity=".158"/>
<use href="#d" y="726" opacity=".042"/>
<use href="#d" y="726.9" opacity=".082"/>
<use href="#d" y="728.3" opacity=".082"/>
<use href="#d" y="729.3" opacity=".259"/>
<use href="#d" y="730.3" opacity=".193"/>
<use href="#d" y="731.4" opacity=".042"/>
<use href="#d" y="732.6" opacity=".193"/>
<use href="#d" y="733.6" opacity=".082"/>
<use href="#d" y="734.6" opacity=".042"/>
<use href="#d" y="736.3" opacity=".082"/>
<use href="#d" y="737.3" opacity=".042"/>
<use href="#d" y="738.2" opacity=".082"/>
<use href="#d" y="738.8" opacity=".082"/>
<use href="#d" y="740.2" opacity=".121"/>
<use href="#d" y="740.7" opacity=".158"/>
<use href="#d" y="741.9" opacity=".082"/>
<use href="#d" y="742.7" opacity=".158"/>
<use href="#d" y="744" opacity=".193"/>
<use href="#d" y="745.5" opacity=".193"/>
<use href="#d" y="746.1" opacity=".121"/>
<use href="#d" y="746.7" opacity=".121"/>
<use href="#d" y="749.1" opacity=".121"/>
<use href="#d" y="749.8" opacity=".042"/>
<use href="#d" y="750.8" opacity=".082"/>
<use href="#d" y="751.8" opacity=".082"/>
<use href="#d" y="753" opacity=".042"/>
<use href="#d" y="754.2" opacity=".042"/>
<use href="#d" y="755.1" opacity=".082"/>
<use href="#d" y="757.1" opacity=".082"/>
<use href="#d" y="757.5" opacity=".082"/>
<use href="#d" y="760.2" opacity=".042"/>
<use href="#d" y="761.5" opacity=".042"/>
<use href="#d" y="763.4" opacity=".121"/>
<use href="#d" y="763.9" opacity=".082"/>
<use href="#d" y="764.9" opacity=".121"/>
<use href="#d" y="768.9" opacity=".042"/>
<use href="#d" y="771.5" opacity=".082"/>
<use href="#d" y="771.8" opacity=".158"/>
<use href="#d" y="774.9" opacity=".042"/>
<use href="#d" y="775.8" opacity=".042"/>
<use href="#d" y="779.2" opacity=".042"/>
<use href="#d" y="780.5" opacity=".082"/>
<use href="#d" y="783.3" opacity=".082"/>
<use href="#d" y="784.2" opacity=".082"/>
<use href="#d" y="785.4" opacity=".082"/>
<use href="#d" y="786.1" opacity=".042"/>
<use href="#d" y="788.5" opacity=".042"/>
<use href="#d" y="790.1" opacity=".082"/>
<use href="#d" y="792.2" opacity=".042"/>
<use href="#d" y="793.1" opacity=".042"/>
<use href="#d" y="794.4" opacity=".082"/>
<use href="#d" y="794.9" opacity=".121"/>
<use href="#d" y="795.7" opacity=".082"/>
<use href="#d" y="798.7" opacity=".082"/>
<use href="#d" y="799.8" opacity=".042"/>
<use href="#d" y="801.3" opacity=".042"/>
<use href="#d" y="804.5" opacity=".121"/>
<use href="#d" y="804.7" opacity=".121"/>
<use href="#d" y="806.4" opacity=".121"/>
<use href="#d" y="807.3" opacity=".042"/>
<use href="#d" y="807.7" opacity=".042"/>
<use href="#d" y="808.8" opacity=".042"/>
<use href="#d" y="813.5" opacity=".042"/>
<use href="#d" y="814.7" opacity=".042"/>
<use href="#d" y="815.6" opacity=".042"/>
<use href="#d" y="817.2" opacity=".082"/>
<use href="#d" y="818" opacity=".042"/>
<use href="#d" y="820.7" opacity=".042"/>
<use href="#d" y="822.5" opacity=".082"/>
<use href="#d" y="824.4" opacity=".042"/>
<use href="#d" y="824.9" opacity=".082"/>
<use href="#d" y="826.9" opacity=".082"/>
<use href="#d" y="833.3" opacity=".082"/>
<use href="#d" y="835.5" opacity=".042"/>
<use href="#d" y="838" opacity=".042"/>
<use href="#d" y="840" opacity=".042"/>
<use href="#d" y="840.6" opacity=".042"/>
<use href="#d" y="842.4" opacity=".042"/>
<use href="#d" y="843.1" opacity=".121"/>
<use href="#d" y="845.4" opacity=".042"/>
<use href="#d" y="849.9" opacity=".042"/>
<use href="#d" y="850.7" opacity=".042"/>
<use href="#d" y="857.1" opacity=".042"/>
<use href="#d" y="857.7" opacity=".042"/>
<use href="#d" y="858.7" opacity=".042"/>
<use href="#d" y="861.1" opacity=".121"/>
<use href="#d" y="863.5" opacity=".082"/>
<use href="#d" y="864.3" opacity=".042"/>
<use href="#d" y="866.9" opacity=".042"/>
<use href="#d" y="868.2" opacity=".042"/>
<use href="#d" y="868.7" opacity=".042"/>
<use href="#d" y="873.3" opacity=".042"/>
<use href="#d" y="875.5" opacity=".042"/>
<use href="#d" y="880.6" opacity=".042"/>
<use href="#d" y="888.9" opacity=".042"/>
<use href="#d" y="896.2" opacity=".082"/>
<use href="#d" y="897.1" opacity=".042"/>
<use href="#d" y="897.8" opacity=".042"/>
<use href="#d" y="908.1" opacity=".082"/>
<use href="#d" y="910.8" opacity=".082"/>
<use href="#d" y="911.9" opacity=".082"/>
<use href="#d" y="913.6" opacity=".042"/>
<use href="#d" y="915.7" opacity=".042"/>
<use href="#d" y="917" opacity=".042"/>
<use href="#d" y="922.9" opacity=".042"/>
<use href="#d" y="925.6" opacity=".042"/>
<use href="#d" y="930" opacity=".042"/>
<use href="#d" y="930.8" opacity=".082"/>
<use href="#d" y="932.7" opacity=".042"/>
<use href="#d" y="933.6" opacity=".042"/>
<use href="#d" y="934.8" opacity=".042"/>
<use href="#d" y="936.3" opacity=".042"/>
<use href="#d" y="937.6" opacity=".042"/>
<use href="#d" y="938.6" opacity=".042"/>
<use href="#d" y="944.2" opacity=".042"/>
<use href="#d" y="945.3" opacity=".042"/>
<use href="#d" y="947.4" opacity=".042"/>
<use href="#d" y="948.4" opacity=".042"/>
<use href="#d" y="957.1" opacity=".042"/>
<use href="#d" y="959" opacity=".042"/>
<use href="#d" y="960.3" opacity=".042"/>
<use href="#d" y="967.3" opacity=".082"/>
<use href="#d" y="968.8" opacity=".042"/>
<use href="#d" y="970.6" opacity=".042"/>
<use href="#d" y="972.2" opacity=".042"/>
<use href="#d" y="974" opacity=".082"/>
<use href="#d" y="974.5" opacity=".042"/>
<use href="#d" y="976.3" opacity=".042"/>
<use href="#d" y="980.9" opacity=".082"/>
<use href="#d" y="981.8" opacity=".042"/>
<use href="#d" y="989.7" opacity=".042"/>
<use href="#d" y="991.8" opacity=".042"/>
<use href="#d" y="994" opacity=".042"/>
<use href="#d" y="995.4" opacity=".042"/>
<use href="#d" y="998.5" opacity=".082"/>
<use href="#d" y="999.7" opacity=".082"/>
<use href="#d" y="1004" opacity=".042"/>
<use href="#d" y="1005.3" opacity=".042"/>
<use href="#d" y="1005.6" opacity=".082"/>
<use href="#d" y="1008.8" opacity=".082"/>
<use href="#d" y="1011.2" opacity=".082"/>
<use href="#d" y="1013.3" opacity=".042"/>
<use href="#d" y="1014.3" opacity=".042"/>
<use href="#d" y="1017.1" opacity=".042"/>
<use href="#d" y="1028.4" opacity=".042"/>
<use href="#d" y="1030.5" opacity=".042"/>
<use href="#d" y="1034.2" opacity=".042"/>
<use href="#d" y="1034.8" opacity=".082"/>
<use href="#d" y="1042.4" opacity=".042"/>
<use href="#d" y="1042.9" opacity=".042"/>
<use href="#d" y="1057.3" opacity=".042"/>
<use href="#d" y="1061.2" opacity=".082"/>
<use href="#d" y="1062.9" opacity=".082"/>
<use href="#d" y="1066.3" opacity=".042"/>
<use href="#d" y="1073.5" opacity=".042"/>
<use href="#d" y="1075.4" opacity=".042"/>
<use href="#d" y="1078.1" opacity=".042"/>
<use href="#d" y="1081.4" opacity=".042"/>
<use href="#d" y="1083.2" opacity=".042"/>
<use href="#d" y="1084.7" opacity=".042"/>
<use href="#d" y="1087.5" opacity=".082"/>
<use href="#d" y="1088.1" opacity=".042"/>
<use href="#d" y="1098.5" opacity=".042"/>
<use href="#d" y="1104.7" opacity=".042"/>
<use href="#d" y="1106.1" opacity=".042"/>
<use href="#d" y="1108" opacity=".042"/>
<use href="#d" y="1116.3" opacity=".05"/>
<use href="#d" y="1128.2" opacity=".05"/>
<use href="#d" y="1142" opacity=".04"/>
<use href="#d" y="1153" opacity=".06"/>
<use href="#d" y="1158" opacity=".06"/>
<use href="#d" y="1165.6" opacity=".05"/>
<use href="#d" y="1184.3" opacity=".2"/>
</g>
<g transform="translate(1080.22 0)" fill="#000">
<path d="M-8.5 430 H8.5 L8.8 450 V486.3 L0 495.1 L-8.8 486.3 V450Z"/>
<path d="M0 567.6 L8.8 576.4 V600 L8.5 620 H-8.5 L-8.8 600 V576.4Z"/>
<use href="#d" y="137.5" opacity=".04"/>
<use href="#d" y="162.6" opacity=".09"/>
<use href="#d" y="177" opacity=".04"/>
<use href="#d" y="218.2" opacity=".03"/>
<use href="#d" y="221.2" opacity=".04"/>
<use href="#d" y="223.7" opacity=".05"/>
<use href="#d" y="227.4" opacity=".04"/>
<use href="#d" y="230.4" opacity=".03"/>
<use href="#d" y="243.9" opacity=".042"/>
<use href="#d" y="259.5" opacity=".042"/>
<use href="#d" y="261.8" opacity=".042"/>
<use href="#d" y="265.5" opacity=".082"/>
<use href="#d" y="280.7" opacity=".042"/>
<use href="#d" y="283.1" opacity=".042"/>
<use href="#d" y="290.2" opacity=".082"/>
<use href="#d" y="291.5" opacity=".082"/>
<use href="#d" y="291.6" opacity=".042"/>
<use href="#d" y="294.4" opacity=".082"/>
<use href="#d" y="295.2" opacity=".042"/>
<use href="#d" y="296.3" opacity=".042"/>
<use href="#d" y="300.7" opacity=".042"/>
<use href="#d" y="301.7" opacity=".042"/>
<use href="#d" y="302.8" opacity=".042"/>
<use href="#d" y="304" opacity=".042"/>
<use href="#d" y="304.8" opacity=".158"/>
<use href="#d" y="306.7" opacity=".042"/>
<use href="#d" y="308.6" opacity=".082"/>
<use href="#d" y="312.3" opacity=".042"/>
<use href="#d" y="313.1" opacity=".042"/>
<use href="#d" y="313.6" opacity=".121"/>
<use href="#d" y="315" opacity=".082"/>
<use href="#d" y="315.6" opacity=".121"/>
<use href="#d" y="317.3" opacity=".082"/>
<use href="#d" y="318" opacity=".082"/>
<use href="#d" y="318.8" opacity=".042"/>
<use href="#d" y="321" opacity=".158"/>
<use href="#d" y="321.6" opacity=".042"/>
<use href="#d" y="323" opacity=".082"/>
<use href="#d" y="324.3" opacity=".042"/>
<use href="#d" y="324.9" opacity=".082"/>
<use href="#d" y="326.1" opacity=".227"/>
<use href="#d" y="328.2" opacity=".082"/>
<use href="#d" y="329" opacity=".121"/>
<use href="#d" y="330.2" opacity=".082"/>
<use href="#d" y="330.6" opacity=".082"/>
<use href="#d" y="332.4" opacity=".042"/>
<use href="#d" y="332.7" opacity=".158"/>
<use href="#d" y="334.2" opacity=".158"/>
<use href="#d" y="334.6" opacity=".193"/>
<use href="#d" y="336.1" opacity=".32"/>
<use href="#d" y="336.8" opacity=".121"/>
<use href="#d" y="337.8" opacity=".158"/>
<use href="#d" y="339" opacity=".259"/>
<use href="#d" y="340" opacity=".366"/>
<use href="#d" y="341" opacity=".229"/>
<use href="#d" y="342" opacity=".178"/>
<use href="#d" y="343" opacity=".254"/>
<use href="#d" y="344" opacity=".31"/>
<use href="#d" y="345" opacity=".228"/>
<use href="#d" y="346" opacity=".333"/>
<use href="#d" y="347" opacity=".443"/>
<use href="#d" y="348" opacity=".569"/>
<use href="#d" y="349" opacity=".65"/>
<use href="#d" y="350" opacity=".528"/>
<use href="#d" y="351" opacity=".512"/>
<use href="#d" y="352" opacity=".428"/>
<use href="#d" y="353" opacity=".555"/>
<use href="#d" y="354" opacity=".668"/>
<use href="#d" y="355" opacity=".659"/>
<use href="#d" y="356" opacity=".543"/>
<use href="#d" y="357" opacity=".576"/>
<use href="#d" y="358" opacity=".612"/>
<use href="#d" y="359" opacity=".669"/>
<use href="#d" y="360" opacity=".541"/>
<use href="#d" y="361" opacity=".784"/>
<use href="#d" y="362" opacity=".696"/>
<use href="#d" y="363" opacity=".652"/>
<use href="#d" y="364" opacity=".609"/>
<use href="#d" y="365" opacity=".713"/>
<use href="#d" y="366" opacity=".586"/>
<use href="#d" y="367" opacity=".818"/>
<use href="#d" y="368" opacity=".729"/>
<use href="#d" y="369" opacity=".818"/>
<use href="#d" y="370" opacity=".801"/>
<use href="#d" y="371" opacity=".756"/>
<use href="#d" y="372" opacity=".796"/>
<use href="#d" y="373" opacity=".793"/>
<use href="#d" y="374" opacity=".774"/>
<use href="#d" y="375" opacity=".853"/>
<use href="#d" y="376" opacity=".891"/>
<use href="#d" y="377" opacity=".815"/>
<use href="#d" y="378" opacity=".916"/>
<use href="#d" y="379" opacity=".86"/>
<use href="#d" y="380" opacity=".742"/>
<use href="#d" y="381" opacity=".833"/>
<use href="#d" y="382" opacity=".84"/>
<use href="#d" y="383" opacity=".87"/>
<use href="#d" y="384" opacity=".824"/>
<use href="#d" y="385" opacity=".956"/>
<use href="#d" y="386" opacity=".867"/>
<use href="#d" y="387" opacity=".848"/>
<use href="#d" y="388" opacity=".956"/>
<use href="#d" y="389" opacity=".834"/>
<use href="#d" y="390" opacity=".893"/>
<use href="#d" y="391" opacity=".976"/>
<use href="#d" y="392" opacity=".94"/>
<use href="#d" y="393" opacity=".794"/>
<use href="#d" y="394" opacity=".923"/>
<use href="#d" y="395" opacity=".987"/>
<use href="#d" y="396" opacity=".978"/>
<use href="#d" y="397" opacity=".954"/>
<use href="#d" y="398" opacity=".979"/>
<use href="#d" y="399" opacity=".972"/>
<use href="#d" y="400" opacity=".987"/>
<use href="#d" y="401" opacity=".875"/>
<use href="#d" y="402" opacity=".916"/>
<use href="#d" y="403" opacity=".97"/>
<use href="#d" y="404" opacity=".967"/>
<use href="#d" y="405" opacity=".97"/>
<use href="#d" y="406" opacity=".956"/>
<use href="#d" y="407" opacity=".975"/>
<use href="#d" y="408" opacity=".974"/>
<use href="#d" y="409" opacity=".969"/>
<use href="#d" y="410" opacity=".946"/>
<use href="#d" y="411" opacity=".93"/>
<use href="#d" y="412" opacity=".976"/>
<use href="#d" y="413" opacity=".996"/>
<use href="#d" y="414" opacity=".985"/>
<use href="#d" y="415" opacity=".992"/>
<use href="#d" y="416" opacity=".994"/>
<use href="#d" y="417" opacity=".988"/>
<use href="#d" y="418" opacity="1"/>
<use href="#d" y="419" opacity=".998"/>
<use href="#d" y="420" opacity=".942"/>
<use href="#d" y="421" opacity=".999"/>
<use href="#d" y="422" opacity=".982"/>
<use href="#d" y="423" opacity=".993"/>
<use href="#d" y="424" opacity=".992"/>
<use href="#d" y="425" opacity=".999"/>
<use href="#d" y="426" opacity="1"/>
<use href="#d" y="427" opacity="1"/>
<use href="#d" y="428" opacity=".994"/>
<use href="#d" y="429" opacity=".998"/>
<use href="#d" y="430" opacity=".99"/>
<use href="#d" y="431" opacity=".989"/>
<use href="#d" y="432" opacity="1"/>
<use href="#d" y="433" opacity="1"/>
<use href="#d" y="434" opacity="1"/>
<use href="#d" y="619" opacity=".999"/>
<use href="#d" y="620" opacity=".999"/>
<use href="#d" y="621" opacity=".997"/>
<use href="#d" y="622" opacity=".997"/>
<use href="#d" y="623" opacity=".997"/>
<use href="#d" y="624" opacity=".995"/>
<use href="#d" y="625" opacity=".999"/>
<use href="#d" y="626" opacity=".968"/>
<use href="#d" y="627" opacity=".99"/>
<use href="#d" y="628" opacity=".999"/>
<use href="#d" y="629" opacity=".999"/>
<use href="#d" y="630" opacity=".999"/>
<use href="#d" y="631" opacity=".993"/>
<use href="#d" y="632" opacity=".999"/>
<use href="#d" y="633" opacity=".998"/>
<use href="#d" y="634" opacity=".957"/>
<use href="#d" y="635" opacity=".969"/>
<use href="#d" y="636" opacity=".997"/>
<use href="#d" y="637" opacity=".973"/>
<use href="#d" y="638" opacity=".984"/>
<use href="#d" y="639" opacity=".991"/>
<use href="#d" y="640" opacity=".988"/>
<use href="#d" y="641" opacity=".992"/>
<use href="#d" y="642" opacity=".993"/>
<use href="#d" y="643" opacity=".977"/>
<use href="#d" y="644" opacity=".989"/>
<use href="#d" y="645" opacity=".97"/>
<use href="#d" y="646" opacity=".989"/>
<use href="#d" y="647" opacity=".975"/>
<use href="#d" y="648" opacity=".891"/>
<use href="#d" y="649" opacity=".975"/>
<use href="#d" y="650" opacity=".911"/>
<use href="#d" y="651" opacity=".994"/>
<use href="#d" y="652" opacity=".972"/>
<use href="#d" y="653" opacity=".957"/>
<use href="#d" y="654" opacity=".929"/>
<use href="#d" y="655" opacity=".948"/>
<use href="#d" y="656" opacity=".976"/>
<use href="#d" y="657" opacity=".963"/>
<use href="#d" y="658" opacity=".997"/>
<use href="#d" y="659" opacity=".866"/>
<use href="#d" y="660" opacity=".85"/>
<use href="#d" y="661" opacity=".901"/>
<use href="#d" y="662" opacity=".942"/>
<use href="#d" y="663" opacity=".755"/>
<use href="#d" y="664" opacity=".834"/>
<use href="#d" y="665" opacity=".817"/>
<use href="#d" y="666" opacity=".904"/>
<use href="#d" y="667" opacity=".789"/>
<use href="#d" y="668" opacity=".891"/>
<use href="#d" y="669" opacity=".783"/>
<use href="#d" y="670" opacity=".848"/>
<use href="#d" y="671" opacity=".603"/>
<use href="#d" y="672" opacity=".697"/>
<use href="#d" y="673" opacity=".918"/>
<use href="#d" y="674" opacity=".676"/>
<use href="#d" y="675" opacity=".589"/>
<use href="#d" y="676" opacity=".868"/>
<use href="#d" y="677" opacity=".742"/>
<use href="#d" y="678" opacity=".732"/>
<use href="#d" y="679" opacity=".696"/>
<use href="#d" y="680" opacity=".771"/>
<use href="#d" y="681" opacity=".632"/>
<use href="#d" y="682" opacity=".696"/>
<use href="#d" y="683" opacity=".699"/>
<use href="#d" y="684" opacity=".67"/>
<use href="#d" y="685" opacity=".484"/>
<use href="#d" y="686" opacity=".458"/>
<use href="#d" y="687" opacity=".386"/>
<use href="#d" y="688" opacity=".375"/>
<use href="#d" y="689" opacity=".522"/>
<use href="#d" y="690" opacity=".428"/>
<use href="#d" y="691" opacity=".492"/>
<use href="#d" y="692" opacity=".324"/>
<use href="#d" y="693" opacity=".374"/>
<use href="#d" y="694" opacity=".327"/>
<use href="#d" y="695" opacity=".419"/>
<use href="#d" y="696" opacity=".32"/>
<use href="#d" y="697" opacity=".387"/>
<use href="#d" y="698" opacity=".348"/>
<use href="#d" y="699" opacity=".246"/>
<use href="#d" y="700" opacity=".368"/>
<use href="#d" y="701" opacity=".199"/>
<use href="#d" y="702" opacity=".184"/>
<use href="#d" y="703" opacity=".307"/>
<use href="#d" y="704.3" opacity=".291"/>
<use href="#d" y="705" opacity=".376"/>
<use href="#d" y="706.2" opacity=".259"/>
<use href="#d" y="706.9" opacity=".227"/>
<use href="#d" y="708.3" opacity=".227"/>
<use href="#d" y="709" opacity=".291"/>
<use href="#d" y="710.1" opacity=".121"/>
<use href="#d" y="710.7" opacity=".227"/>
<use href="#d" y="711.8" opacity=".158"/>
<use href="#d" y="713.1" opacity=".158"/>
<use href="#d" y="714.5" opacity=".158"/>
<use href="#d" y="714.9" opacity=".042"/>
<use href="#d" y="715.7" opacity=".259"/>
<use href="#d" y="717" opacity=".121"/>
<use href="#d" y="717.9" opacity=".158"/>
<use href="#d" y="720.5" opacity=".121"/>
<use href="#d" y="721.5" opacity=".193"/>
<use href="#d" y="721.7" opacity=".227"/>
<use href="#d" y="722.7" opacity=".193"/>
<use href="#d" y="723.8" opacity=".121"/>
<use href="#d" y="725.5" opacity=".082"/>
<use href="#d" y="725.8" opacity=".082"/>
<use href="#d" y="727.2" opacity=".121"/>
<use href="#d" y="727.8" opacity=".121"/>
<use href="#d" y="729.4" opacity=".121"/>
<use href="#d" y="731.8" opacity=".042"/>
<use href="#d" y="733.2" opacity=".082"/>
<use href="#d" y="733.9" opacity=".193"/>
<use href="#d" y="734.6" opacity=".082"/>
<use href="#d" y="735.8" opacity=".121"/>
<use href="#d" y="738.4" opacity=".082"/>
<use href="#d" y="738.9" opacity=".121"/>
<use href="#d" y="740.8" opacity=".121"/>
<use href="#d" y="741.8" opacity=".121"/>
<use href="#d" y="743.3" opacity=".042"/>
<use href="#d" y="743.6" opacity=".042"/>
<use href="#d" y="745.3" opacity=".042"/>
<use href="#d" y="745.8" opacity=".121"/>
<use href="#d" y="747.3" opacity=".121"/>
<use href="#d" y="747.7" opacity=".121"/>
<use href="#d" y="748.6" opacity=".042"/>
<use href="#d" y="750" opacity=".042"/>
<use href="#d" y="750.7" opacity=".158"/>
<use href="#d" y="752.6" opacity=".042"/>
<use href="#d" y="754.4" opacity=".121"/>
<use href="#d" y="756.4" opacity=".042"/>
<use href="#d" y="758.4" opacity=".042"/>
<use href="#d" y="759.2" opacity=".042"/>
<use href="#d" y="760.7" opacity=".082"/>
<use href="#d" y="762.4" opacity=".121"/>
<use href="#d" y="762.9" opacity=".121"/>
<use href="#d" y="763.9" opacity=".158"/>
<use href="#d" y="765.4" opacity=".158"/>
<use href="#d" y="766.4" opacity=".121"/>
<use href="#d" y="768.3" opacity=".042"/>
<use href="#d" y="769.5" opacity=".082"/>
<use href="#d" y="770.1" opacity=".082"/>
<use href="#d" y="771.5" opacity=".042"/>
<use href="#d" y="771.6" opacity=".042"/>
<use href="#d" y="772.9" opacity=".121"/>
<use href="#d" y="773.7" opacity=".121"/>
<use href="#d" y="777.7" opacity=".082"/>
<use href="#d" y="778.7" opacity=".158"/>
<use href="#d" y="779.6" opacity=".082"/>
<use href="#d" y="780.8" opacity=".042"/>
<use href="#d" y="784.4" opacity=".121"/>
<use href="#d" y="784.7" opacity=".042"/>
<use href="#d" y="785.7" opacity=".082"/>
<use href="#d" y="787.4" opacity=".121"/>
<use href="#d" y="787.7" opacity=".082"/>
<use href="#d" y="789.1" opacity=".121"/>
<use href="#d" y="789.8" opacity=".042"/>
<use href="#d" y="790.6" opacity=".082"/>
<use href="#d" y="793.7" opacity=".082"/>
<use href="#d" y="795.1" opacity=".082"/>
<use href="#d" y="797.6" opacity=".042"/>
<use href="#d" y="800.1" opacity=".042"/>
<use href="#d" y="804.3" opacity=".082"/>
<use href="#d" y="805" opacity=".082"/>
<use href="#d" y="805.9" opacity=".042"/>
<use href="#d" y="807.1" opacity=".042"/>
<use href="#d" y="808.3" opacity=".121"/>
<use href="#d" y="812.3" opacity=".082"/>
<use href="#d" y="813.2" opacity=".121"/>
<use href="#d" y="817.3" opacity=".121"/>
<use href="#d" y="817.6" opacity=".042"/>
<use href="#d" y="819.6" opacity=".082"/>
<use href="#d" y="820.6" opacity=".042"/>
<use href="#d" y="822.1" opacity=".042"/>
<use href="#d" y="824.6" opacity=".193"/>
<use href="#d" y="828.7" opacity=".042"/>
<use href="#d" y="830.2" opacity=".082"/>
<use href="#d" y="831.8" opacity=".082"/>
<use href="#d" y="833.5" opacity=".042"/>
<use href="#d" y="833.8" opacity=".082"/>
<use href="#d" y="836.2" opacity=".042"/>
<use href="#d" y="838.3" opacity=".082"/>
<use href="#d" y="841" opacity=".042"/>
<use href="#d" y="841.9" opacity=".042"/>
<use href="#d" y="844.4" opacity=".042"/>
<use href="#d" y="845.6" opacity=".082"/>
<use href="#d" y="850.3" opacity=".042"/>
<use href="#d" y="851.4" opacity=".042"/>
<use href="#d" y="852.1" opacity=".082"/>
<use href="#d" y="853.2" opacity=".042"/>
<use href="#d" y="854.2" opacity=".042"/>
<use href="#d" y="856.7" opacity=".042"/>
<use href="#d" y="863.2" opacity=".042"/>
<use href="#d" y="863.7" opacity=".042"/>
<use href="#d" y="866.1" opacity=".042"/>
<use href="#d" y="870.5" opacity=".082"/>
<use href="#d" y="873.1" opacity=".082"/>
<use href="#d" y="877.1" opacity=".042"/>
<use href="#d" y="879.1" opacity=".082"/>
<use href="#d" y="881.5" opacity=".042"/>
<use href="#d" y="882" opacity=".042"/>
<use href="#d" y="883" opacity=".042"/>
<use href="#d" y="884.3" opacity=".042"/>
<use href="#d" y="884.9" opacity=".082"/>
<use href="#d" y="886.3" opacity=".082"/>
<use href="#d" y="886.9" opacity=".042"/>
<use href="#d" y="890.5" opacity=".082"/>
<use href="#d" y="892.5" opacity=".042"/>
<use href="#d" y="896.1" opacity=".042"/>
<use href="#d" y="897.3" opacity=".042"/>
<use href="#d" y="900.2" opacity=".042"/>
<use href="#d" y="903.8" opacity=".042"/>
<use href="#d" y="906.2" opacity=".042"/>
<use href="#d" y="906.9" opacity=".042"/>
<use href="#d" y="909.3" opacity=".082"/>
<use href="#d" y="913.8" opacity=".042"/>
<use href="#d" y="914.5" opacity=".042"/>
<use href="#d" y="917.6" opacity=".042"/>
<use href="#d" y="922.3" opacity=".042"/>
<use href="#d" y="923.4" opacity=".042"/>
<use href="#d" y="933.9" opacity=".082"/>
<use href="#d" y="935.8" opacity=".042"/>
<use href="#d" y="936.5" opacity=".042"/>
<use href="#d" y="943.5" opacity=".042"/>
<use href="#d" y="946.4" opacity=".042"/>
<use href="#d" y="947" opacity=".042"/>
<use href="#d" y="948.9" opacity=".042"/>
<use href="#d" y="949.5" opacity=".042"/>
<use href="#d" y="950.7" opacity=".042"/>
<use href="#d" y="952.2" opacity=".082"/>
<use href="#d" y="953.8" opacity=".042"/>
<use href="#d" y="954.6" opacity=".121"/>
<use href="#d" y="956" opacity=".042"/>
<use href="#d" y="966.7" opacity=".042"/>
<use href="#d" y="968" opacity=".042"/>
<use href="#d" y="971.2" opacity=".042"/>
<use href="#d" y="972.1" opacity=".042"/>
<use href="#d" y="978.2" opacity=".042"/>
<use href="#d" y="982.8" opacity=".042"/>
<use href="#d" y="984.3" opacity=".042"/>
<use href="#d" y="985.6" opacity=".082"/>
<use href="#d" y="986.7" opacity=".042"/>
<use href="#d" y="988.1" opacity=".042"/>
<use href="#d" y="991.2" opacity=".042"/>
<use href="#d" y="994.2" opacity=".121"/>
<use href="#d" y="996.1" opacity=".042"/>
<use href="#d" y="998.5" opacity=".082"/>
<use href="#d" y="998.5" opacity=".042"/>
<use href="#d" y="1003.1" opacity=".042"/>
<use href="#d" y="1004" opacity=".042"/>
<use href="#d" y="1005.3" opacity=".042"/>
<use href="#d" y="1010.9" opacity=".042"/>
<use href="#d" y="1014.9" opacity=".082"/>
<use href="#d" y="1016.1" opacity=".042"/>
<use href="#d" y="1017.2" opacity=".121"/>
<use href="#d" y="1019.1" opacity=".042"/>
<use href="#d" y="1020.7" opacity=".042"/>
<use href="#d" y="1021.6" opacity=".082"/>
<use href="#d" y="1023.9" opacity=".042"/>
<use href="#d" y="1030.2" opacity=".042"/>
<use href="#d" y="1049.6" opacity=".042"/>
<use href="#d" y="1050.9" opacity=".082"/>
<use href="#d" y="1053.5" opacity=".042"/>
<use href="#d" y="1055.2" opacity=".082"/>
<use href="#d" y="1055.7" opacity=".082"/>
<use href="#d" y="1058.7" opacity=".042"/>
<use href="#d" y="1059.5" opacity=".121"/>
<use href="#d" y="1061.6" opacity=".082"/>
<use href="#d" y="1063.5" opacity=".082"/>
<use href="#d" y="1065" opacity=".042"/>
<use href="#d" y="1066.8" opacity=".042"/>
<use href="#d" y="1067.9" opacity=".042"/>
<use href="#d" y="1069.4" opacity=".042"/>
<use href="#d" y="1072" opacity=".042"/>
<use href="#d" y="1073.7" opacity=".042"/>
<use href="#d" y="1076" opacity=".121"/>
<use href="#d" y="1083.6" opacity=".042"/>
<use href="#d" y="1086.1" opacity=".042"/>
<use href="#d" y="1088.3" opacity=".042"/>
<use href="#d" y="1088.7" opacity=".042"/>
<use href="#d" y="1094.8" opacity=".042"/>
<use href="#d" y="1106" opacity=".042"/>
<use href="#d" y="1107.9" opacity=".042"/>
<use href="#d" y="1114.4" opacity=".08"/>
<use href="#d" y="1128.2" opacity=".09"/>
<use href="#d" y="1144" opacity=".05"/>
<use href="#d" y="1158.7" opacity=".04"/>
<use href="#d" y="1171.5" opacity=".04"/>
<use href="#d" y="1180" opacity=".05"/>
<use href="#d" y="1184" opacity=".08"/>
<use href="#d" y="1193" opacity=".06"/>
<use href="#d" y="1197.5" opacity=".1"/>
<use href="#d" y="1198.8" opacity=".06"/>
</g>
<g transform="translate(1443.18 0)" fill="#000">
<path d="M-8.5 430 H8.5 L8.8 450 V486.3 L0 495.1 L-8.8 486.3 V450Z"/>
<path d="M0 567.6 L8.8 576.4 V600 L8.5 620 H-8.5 L-8.8 600 V576.4Z"/>
<use href="#d" y="153" opacity=".04"/>
<use href="#d" y="157.3" opacity=".05"/>
<use href="#d" y="161.3" opacity=".07"/>
<use href="#d" y="181" opacity=".04"/>
<use href="#d" y="208.6" opacity=".04"/>
<use href="#d" y="219.4" opacity=".04"/>
<use href="#d" y="231.3" opacity=".08"/>
<use href="#d" y="242.4" opacity=".042"/>
<use href="#d" y="244.1" opacity=".042"/>
<use href="#d" y="251.5" opacity=".042"/>
<use href="#d" y="261.8" opacity=".042"/>
<use href="#d" y="266" opacity=".121"/>
<use href="#d" y="270" opacity=".082"/>
<use href="#d" y="277" opacity=".042"/>
<use href="#d" y="280.5" opacity=".042"/>
<use href="#d" y="282.3" opacity=".042"/>
<use href="#d" y="287.5" opacity=".082"/>
<use href="#d" y="296.2" opacity=".042"/>
<use href="#d" y="298.4" opacity=".042"/>
<use href="#d" y="298.5" opacity=".042"/>
<use href="#d" y="299.9" opacity=".082"/>
<use href="#d" y="300.6" opacity=".042"/>
<use href="#d" y="304.2" opacity=".082"/>
<use href="#d" y="305.3" opacity=".042"/>
<use href="#d" y="306.2" opacity=".042"/>
<use href="#d" y="307.2" opacity=".042"/>
<use href="#d" y="308.4" opacity=".082"/>
<use href="#d" y="308.7" opacity=".042"/>
<use href="#d" y="310.3" opacity=".259"/>
<use href="#d" y="310.7" opacity=".042"/>
<use href="#d" y="312.4" opacity=".042"/>
<use href="#d" y="316.4" opacity=".042"/>
<use href="#d" y="318.3" opacity=".121"/>
<use href="#d" y="319.3" opacity=".042"/>
<use href="#d" y="319.6" opacity=".158"/>
<use href="#d" y="321" opacity=".042"/>
<use href="#d" y="322.2" opacity=".121"/>
<use href="#d" y="323" opacity=".082"/>
<use href="#d" y="324.3" opacity=".042"/>
<use href="#d" y="325.3" opacity=".042"/>
<use href="#d" y="326.2" opacity=".042"/>
<use href="#d" y="327.4" opacity=".082"/>
<use href="#d" y="327.9" opacity=".082"/>
<use href="#d" y="329.3" opacity=".082"/>
<use href="#d" y="330.3" opacity=".082"/>
<use href="#d" y="331" opacity=".042"/>
<use href="#d" y="331.7" opacity=".121"/>
<use href="#d" y="333.2" opacity=".227"/>
<use href="#d" y="334.4" opacity=".227"/>
<use href="#d" y="335" opacity=".121"/>
<use href="#d" y="336.1" opacity=".259"/>
<use href="#d" y="337" opacity=".227"/>
<use href="#d" y="337.8" opacity=".121"/>
<use href="#d" y="339" opacity=".309"/>
<use href="#d" y="340" opacity=".283"/>
<use href="#d" y="341" opacity=".278"/>
<use href="#d" y="342" opacity=".293"/>
<use href="#d" y="343" opacity=".265"/>
<use href="#d" y="344" opacity=".323"/>
<use href="#d" y="345" opacity=".28"/>
<use href="#d" y="346" opacity=".474"/>
<use href="#d" y="347" opacity=".367"/>
<use href="#d" y="348" opacity=".488"/>
<use href="#d" y="349" opacity=".392"/>
<use href="#d" y="350" opacity=".512"/>
<use href="#d" y="351" opacity=".409"/>
<use href="#d" y="352" opacity=".46"/>
<use href="#d" y="353" opacity=".566"/>
<use href="#d" y="354" opacity=".514"/>
<use href="#d" y="355" opacity=".617"/>
<use href="#d" y="356" opacity=".358"/>
<use href="#d" y="357" opacity=".499"/>
<use href="#d" y="358" opacity=".561"/>
<use href="#d" y="359" opacity=".678"/>
<use href="#d" y="360" opacity=".505"/>
<use href="#d" y="361" opacity=".635"/>
<use href="#d" y="362" opacity=".727"/>
<use href="#d" y="363" opacity=".757"/>
<use href="#d" y="364" opacity=".529"/>
<use href="#d" y="365" opacity=".568"/>
<use href="#d" y="366" opacity=".704"/>
<use href="#d" y="367" opacity=".629"/>
<use href="#d" y="368" opacity=".819"/>
<use href="#d" y="369" opacity=".696"/>
<use href="#d" y="370" opacity=".721"/>
<use href="#d" y="371" opacity=".714"/>
<use href="#d" y="372" opacity=".766"/>
<use href="#d" y="373" opacity=".637"/>
<use href="#d" y="374" opacity=".883"/>
<use href="#d" y="375" opacity=".804"/>
<use href="#d" y="376" opacity=".825"/>
<use href="#d" y="377" opacity=".85"/>
<use href="#d" y="378" opacity=".804"/>
<use href="#d" y="379" opacity=".75"/>
<use href="#d" y="380" opacity=".909"/>
<use href="#d" y="381" opacity=".749"/>
<use href="#d" y="382" opacity=".854"/>
<use href="#d" y="383" opacity=".786"/>
<use href="#d" y="384" opacity=".863"/>
<use href="#d" y="385" opacity=".927"/>
<use href="#d" y="386" opacity=".927"/>
<use href="#d" y="387" opacity=".902"/>
<use href="#d" y="388" opacity=".892"/>
<use href="#d" y="389" opacity=".844"/>
<use href="#d" y="390" opacity=".879"/>
<use href="#d" y="391" opacity=".868"/>
<use href="#d" y="392" opacity=".899"/>
<use href="#d" y="393" opacity=".953"/>
<use href="#d" y="394" opacity=".929"/>
<use href="#d" y="395" opacity=".875"/>
<use href="#d" y="396" opacity=".985"/>
<use href="#d" y="397" opacity=".933"/>
<use href="#d" y="398" opacity=".933"/>
<use href="#d" y="399" opacity=".986"/>
<use href="#d" y="400" opacity=".938"/>
<use href="#d" y="401" opacity=".961"/>
<use href="#d" y="402" opacity=".974"/>
<use href="#d" y="403" opacity=".94"/>
<use href="#d" y="404" opacity=".992"/>
<use href="#d" y="405" opacity=".96"/>
<use href="#d" y="406" opacity=".969"/>
<use href="#d" y="407" opacity=".964"/>
<use href="#d" y="408" opacity=".978"/>
<use href="#d" y="409" opacity=".997"/>
<use href="#d" y="410" opacity=".988"/>
<use href="#d" y="411" opacity=".946"/>
<use href="#d" y="412" opacity=".997"/>
<use href="#d" y="413" opacity=".983"/>
<use href="#d" y="414" opacity=".989"/>
<use href="#d" y="415" opacity=".987"/>
<use href="#d" y="416" opacity=".988"/>
<use href="#d" y="417" opacity=".999"/>
<use href="#d" y="418" opacity=".997"/>
<use href="#d" y="419" opacity=".999"/>
<use href="#d" y="420" opacity=".999"/>
<use href="#d" y="421" opacity=".996"/>
<use href="#d" y="422" opacity=".991"/>
<use href="#d" y="423" opacity=".975"/>
<use href="#d" y="424" opacity=".988"/>
<use href="#d" y="425" opacity=".991"/>
<use href="#d" y="426" opacity=".983"/>
<use href="#d" y="427" opacity="1"/>
<use href="#d" y="428" opacity=".99"/>
<use href="#d" y="429" opacity=".991"/>
<use href="#d" y="430" opacity=".997"/>
<use href="#d" y="431" opacity=".997"/>
<use href="#d" y="432" opacity="1"/>
<use href="#d" y="433" opacity="1"/>
<use href="#d" y="434" opacity=".999"/>
<use href="#d" y="619" opacity=".995"/>
<use href="#d" y="620" opacity="1"/>
<use href="#d" y="621" opacity=".999"/>
<use href="#d" y="622" opacity="1"/>
<use href="#d" y="623" opacity="1"/>
<use href="#d" y="624" opacity=".999"/>
<use href="#d" y="625" opacity=".994"/>
<use href="#d" y="626" opacity=".999"/>
<use href="#d" y="627" opacity=".991"/>
<use href="#d" y="628" opacity=".997"/>
<use href="#d" y="629" opacity=".983"/>
<use href="#d" y="630" opacity=".999"/>
<use href="#d" y="631" opacity=".997"/>
<use href="#d" y="632" opacity=".997"/>
<use href="#d" y="633" opacity=".984"/>
<use href="#d" y="634" opacity=".995"/>
<use href="#d" y="635" opacity=".948"/>
<use href="#d" y="636" opacity=".994"/>
<use href="#d" y="637" opacity=".999"/>
<use href="#d" y="638" opacity=".978"/>
<use href="#d" y="639" opacity=".994"/>
<use href="#d" y="640" opacity=".98"/>
<use href="#d" y="641" opacity=".979"/>
<use href="#d" y="642" opacity=".988"/>
<use href="#d" y="643" opacity=".977"/>
<use href="#d" y="644" opacity=".99"/>
<use href="#d" y="645" opacity=".978"/>
<use href="#d" y="646" opacity=".99"/>
<use href="#d" y="647" opacity=".991"/>
<use href="#d" y="648" opacity=".956"/>
<use href="#d" y="649" opacity=".987"/>
<use href="#d" y="650" opacity=".937"/>
<use href="#d" y="651" opacity=".96"/>
<use href="#d" y="652" opacity=".885"/>
<use href="#d" y="653" opacity=".851"/>
<use href="#d" y="654" opacity=".888"/>
<use href="#d" y="655" opacity=".898"/>
<use href="#d" y="656" opacity=".91"/>
<use href="#d" y="657" opacity=".937"/>
<use href="#d" y="658" opacity=".947"/>
<use href="#d" y="659" opacity=".864"/>
<use href="#d" y="660" opacity=".932"/>
<use href="#d" y="661" opacity=".97"/>
<use href="#d" y="662" opacity=".969"/>
<use href="#d" y="663" opacity=".938"/>
<use href="#d" y="664" opacity=".878"/>
<use href="#d" y="665" opacity=".86"/>
<use href="#d" y="666" opacity=".911"/>
<use href="#d" y="667" opacity=".919"/>
<use href="#d" y="668" opacity=".63"/>
<use href="#d" y="669" opacity=".701"/>
<use href="#d" y="670" opacity=".866"/>
<use href="#d" y="671" opacity=".833"/>
<use href="#d" y="672" opacity=".723"/>
<use href="#d" y="673" opacity=".679"/>
<use href="#d" y="674" opacity=".794"/>
<use href="#d" y="675" opacity=".764"/>
<use href="#d" y="676" opacity=".644"/>
<use href="#d" y="677" opacity=".741"/>
<use href="#d" y="678" opacity=".645"/>
<use href="#d" y="679" opacity=".611"/>
<use href="#d" y="680" opacity=".533"/>
<use href="#d" y="681" opacity=".714"/>
<use href="#d" y="682" opacity=".637"/>
<use href="#d" y="683" opacity=".644"/>
<use href="#d" y="684" opacity=".496"/>
<use href="#d" y="685" opacity=".647"/>
<use href="#d" y="686" opacity=".564"/>
<use href="#d" y="687" opacity=".416"/>
<use href="#d" y="688" opacity=".46"/>
<use href="#d" y="689" opacity=".31"/>
<use href="#d" y="690" opacity=".539"/>
<use href="#d" y="691" opacity=".383"/>
<use href="#d" y="692" opacity=".334"/>
<use href="#d" y="693" opacity=".276"/>
<use href="#d" y="694" opacity=".407"/>
<use href="#d" y="695" opacity=".355"/>
<use href="#d" y="696" opacity=".417"/>
<use href="#d" y="697" opacity=".32"/>
<use href="#d" y="698" opacity=".277"/>
<use href="#d" y="699" opacity=".3"/>
<use href="#d" y="700" opacity=".29"/>
<use href="#d" y="701" opacity=".217"/>
<use href="#d" y="702" opacity=".176"/>
<use href="#d" y="703" opacity=".202"/>
<use href="#d" y="703.8" opacity=".121"/>
<use href="#d" y="704.5" opacity=".121"/>
<use href="#d" y="706.2" opacity=".193"/>
<use href="#d" y="707.1" opacity=".227"/>
<use href="#d" y="708.2" opacity=".158"/>
<use href="#d" y="708.5" opacity=".259"/>
<use href="#d" y="710.4" opacity=".158"/>
<use href="#d" y="710.9" opacity=".193"/>
<use href="#d" y="713.1" opacity=".042"/>
<use href="#d" y="714.4" opacity=".158"/>
<use href="#d" y="715.4" opacity=".227"/>
<use href="#d" y="716" opacity=".193"/>
<use href="#d" y="716.8" opacity=".042"/>
<use href="#d" y="718" opacity=".158"/>
<use href="#d" y="719.1" opacity=".042"/>
<use href="#d" y="720.3" opacity=".193"/>
<use href="#d" y="721" opacity=".121"/>
<use href="#d" y="721.5" opacity=".259"/>
<use href="#d" y="722.9" opacity=".042"/>
<use href="#d" y="724.1" opacity=".158"/>
<use href="#d" y="725.3" opacity=".193"/>
<use href="#d" y="726.5" opacity=".291"/>
<use href="#d" y="727" opacity=".193"/>
<use href="#d" y="728.1" opacity=".227"/>
<use href="#d" y="729.1" opacity=".042"/>
<use href="#d" y="730.1" opacity=".158"/>
<use href="#d" y="730.6" opacity=".042"/>
<use href="#d" y="731.6" opacity=".227"/>
<use href="#d" y="732.8" opacity=".042"/>
<use href="#d" y="734.4" opacity=".042"/>
<use href="#d" y="734.7" opacity=".082"/>
<use href="#d" y="736.1" opacity=".042"/>
<use href="#d" y="736.9" opacity=".121"/>
<use href="#d" y="737.6" opacity=".227"/>
<use href="#d" y="740.1" opacity=".082"/>
<use href="#d" y="741.4" opacity=".042"/>
<use href="#d" y="742.2" opacity=".082"/>
<use href="#d" y="742.8" opacity=".121"/>
<use href="#d" y="743.7" opacity=".082"/>
<use href="#d" y="744.7" opacity=".082"/>
<use href="#d" y="745.8" opacity=".193"/>
<use href="#d" y="746.7" opacity=".042"/>
<use href="#d" y="748.2" opacity=".082"/>
<use href="#d" y="749.3" opacity=".042"/>
<use href="#d" y="749.9" opacity=".082"/>
<use href="#d" y="751.2" opacity=".042"/>
<use href="#d" y="751.5" opacity=".042"/>
<use href="#d" y="753.4" opacity=".042"/>
<use href="#d" y="753.8" opacity=".042"/>
<use href="#d" y="754.9" opacity=".042"/>
<use href="#d" y="755.7" opacity=".082"/>
<use href="#d" y="756.7" opacity=".042"/>
<use href="#d" y="758.3" opacity=".042"/>
<use href="#d" y="759.4" opacity=".042"/>
<use href="#d" y="760.9" opacity=".082"/>
<use href="#d" y="763.3" opacity=".082"/>
<use href="#d" y="765.7" opacity=".121"/>
<use href="#d" y="766.6" opacity=".042"/>
<use href="#d" y="767.8" opacity=".158"/>
<use href="#d" y="769.2" opacity=".082"/>
<use href="#d" y="770.4" opacity=".082"/>
<use href="#d" y="772.1" opacity=".042"/>
<use href="#d" y="772.7" opacity=".042"/>
<use href="#d" y="774.8" opacity=".121"/>
<use href="#d" y="777.4" opacity=".042"/>
<use href="#d" y="777.6" opacity=".042"/>
<use href="#d" y="778.8" opacity=".082"/>
<use href="#d" y="780.2" opacity=".042"/>
<use href="#d" y="784.9" opacity=".082"/>
<use href="#d" y="785.9" opacity=".042"/>
<use href="#d" y="786.9" opacity=".042"/>
<use href="#d" y="788.4" opacity=".082"/>
<use href="#d" y="790" opacity=".042"/>
<use href="#d" y="790.5" opacity=".042"/>
<use href="#d" y="792.1" opacity=".121"/>
<use href="#d" y="793.3" opacity=".121"/>
<use href="#d" y="794" opacity=".121"/>
<use href="#d" y="794.6" opacity=".158"/>
<use href="#d" y="795.6" opacity=".158"/>
<use href="#d" y="796.7" opacity=".042"/>
<use href="#d" y="798.1" opacity=".121"/>
<use href="#d" y="798.6" opacity=".042"/>
<use href="#d" y="799.6" opacity=".042"/>
<use href="#d" y="800.5" opacity=".082"/>
<use href="#d" y="802.4" opacity=".042"/>
<use href="#d" y="804.5" opacity=".121"/>
<use href="#d" y="804.8" opacity=".082"/>
<use href="#d" y="808" opacity=".042"/>
<use href="#d" y="808.5" opacity=".158"/>
<use href="#d" y="810.2" opacity=".042"/>
<use href="#d" y="812" opacity=".042"/>
<use href="#d" y="813" opacity=".082"/>
<use href="#d" y="813.7" opacity=".042"/>
<use href="#d" y="815.9" opacity=".042"/>
<use href="#d" y="817.2" opacity=".042"/>
<use href="#d" y="817.7" opacity=".082"/>
<use href="#d" y="818.7" opacity=".082"/>
<use href="#d" y="820.1" opacity=".042"/>
<use href="#d" y="821.4" opacity=".121"/>
<use href="#d" y="822.8" opacity=".042"/>
<use href="#d" y="824.1" opacity=".042"/>
<use href="#d" y="825.5" opacity=".042"/>
<use href="#d" y="827.2" opacity=".121"/>
<use href="#d" y="830.4" opacity=".082"/>
<use href="#d" y="835.5" opacity=".042"/>
<use href="#d" y="836" opacity=".082"/>
<use href="#d" y="839.7" opacity=".042"/>
<use href="#d" y="842.3" opacity=".042"/>
<use href="#d" y="846.1" opacity=".082"/>
<use href="#d" y="849" opacity=".042"/>
<use href="#d" y="853.1" opacity=".042"/>
<use href="#d" y="853.7" opacity=".042"/>
<use href="#d" y="855.4" opacity=".042"/>
<use href="#d" y="860.6" opacity=".042"/>
<use href="#d" y="863.7" opacity=".042"/>
<use href="#d" y="866.7" opacity=".042"/>
<use href="#d" y="867.6" opacity=".082"/>
<use href="#d" y="869" opacity=".042"/>
<use href="#d" y="870.9" opacity=".082"/>
<use href="#d" y="872.9" opacity=".042"/>
<use href="#d" y="873.6" opacity=".082"/>
<use href="#d" y="874.6" opacity=".042"/>
<use href="#d" y="876.8" opacity=".042"/>
<use href="#d" y="880.2" opacity=".121"/>
<use href="#d" y="882.5" opacity=".042"/>
<use href="#d" y="884.6" opacity=".082"/>
<use href="#d" y="886.4" opacity=".042"/>
<use href="#d" y="892.9" opacity=".082"/>
<use href="#d" y="894" opacity=".042"/>
<use href="#d" y="894.8" opacity=".042"/>
<use href="#d" y="896" opacity=".042"/>
<use href="#d" y="901.7" opacity=".042"/>
<use href="#d" y="907.5" opacity=".082"/>
<use href="#d" y="908.2" opacity=".042"/>
<use href="#d" y="908.7" opacity=".158"/>
<use href="#d" y="909.9" opacity=".082"/>
<use href="#d" y="910.9" opacity=".042"/>
<use href="#d" y="914.6" opacity=".042"/>
<use href="#d" y="915.8" opacity=".042"/>
<use href="#d" y="917.9" opacity=".042"/>
<use href="#d" y="919.2" opacity=".042"/>
<use href="#d" y="920.7" opacity=".042"/>
<use href="#d" y="921.7" opacity=".042"/>
<use href="#d" y="923.6" opacity=".082"/>
<use href="#d" y="926.4" opacity=".042"/>
<use href="#d" y="929.2" opacity=".042"/>
<use href="#d" y="929.9" opacity=".082"/>
<use href="#d" y="934.8" opacity=".121"/>
<use href="#d" y="937.5" opacity=".082"/>
<use href="#d" y="939.3" opacity=".082"/>
<use href="#d" y="939.8" opacity=".042"/>
<use href="#d" y="942.3" opacity=".042"/>
<use href="#d" y="944" opacity=".042"/>
<use href="#d" y="945" opacity=".042"/>
<use href="#d" y="947.8" opacity=".082"/>
<use href="#d" y="950.5" opacity=".082"/>
<use href="#d" y="951.8" opacity=".121"/>
<use href="#d" y="955.9" opacity=".082"/>
<use href="#d" y="960" opacity=".042"/>
<use href="#d" y="960.8" opacity=".042"/>
<use href="#d" y="962.8" opacity=".082"/>
<use href="#d" y="970.4" opacity=".042"/>
<use href="#d" y="970.7" opacity=".042"/>
<use href="#d" y="972.1" opacity=".042"/>
<use href="#d" y="973.5" opacity=".042"/>
<use href="#d" y="979.5" opacity=".042"/>
<use href="#d" y="980.1" opacity=".042"/>
<use href="#d" y="981.8" opacity=".042"/>
<use href="#d" y="984.3" opacity=".042"/>
<use href="#d" y="985.4" opacity=".082"/>
<use href="#d" y="987.8" opacity=".042"/>
<use href="#d" y="990.5" opacity=".042"/>
<use href="#d" y="991.5" opacity=".042"/>
<use href="#d" y="993.1" opacity=".042"/>
<use href="#d" y="998.3" opacity=".042"/>
<use href="#d" y="998.8" opacity=".042"/>
<use href="#d" y="1003.9" opacity=".082"/>
<use href="#d" y="1006.9" opacity=".042"/>
<use href="#d" y="1008.6" opacity=".042"/>
<use href="#d" y="1010.2" opacity=".042"/>
<use href="#d" y="1011.2" opacity=".042"/>
<use href="#d" y="1012.4" opacity=".042"/>
<use href="#d" y="1012.6" opacity=".082"/>
<use href="#d" y="1014.4" opacity=".042"/>
<use href="#d" y="1016.9" opacity=".042"/>
<use href="#d" y="1024.7" opacity=".042"/>
<use href="#d" y="1037.4" opacity=".042"/>
<use href="#d" y="1043.2" opacity=".042"/>
<use href="#d" y="1043.7" opacity=".042"/>
<use href="#d" y="1044.6" opacity=".042"/>
<use href="#d" y="1045.9" opacity=".042"/>
<use href="#d" y="1048.9" opacity=".042"/>
<use href="#d" y="1056.5" opacity=".042"/>
<use href="#d" y="1066.5" opacity=".042"/>
<use href="#d" y="1068.3" opacity=".082"/>
<use href="#d" y="1068.7" opacity=".042"/>
<use href="#d" y="1069.8" opacity=".082"/>
<use href="#d" y="1070.8" opacity=".082"/>
<use href="#d" y="1072.2" opacity=".042"/>
<use href="#d" y="1078.4" opacity=".082"/>
<use href="#d" y="1080.5" opacity=".042"/>
<use href="#d" y="1083.1" opacity=".042"/>
<use href="#d" y="1083.8" opacity=".121"/>
<use href="#d" y="1085.6" opacity=".042"/>
<use href="#d" y="1095.8" opacity=".042"/>
<use href="#d" y="1100.1" opacity=".042"/>
<use href="#d" y="1101.1" opacity=".042"/>
<use href="#d" y="1109.8" opacity=".042"/>
<use href="#d" y="1116.3" opacity=".1"/>
<use href="#d" y="1129" opacity=".04"/>
<use href="#d" y="1146" opacity=".08"/>
<use href="#d" y="1160.7" opacity=".08"/>
<use href="#d" y="1177.4" opacity=".04"/>
<use href="#d" y="1184.5" opacity=".12"/>
<use href="#d" y="1189.3" opacity=".1"/>
</g>
<g transform="translate(1806.15 0)" fill="#000">
<path d="M-8.5 430 H8.5 L8.8 450 V486.3 L0 495.1 L-8.8 486.3 V450Z"/>
<path d="M0 567.6 L8.8 576.4 V600 L8.5 620 H-8.5 L-8.8 600 V576.4Z"/>
<use href="#d" y="156.9" opacity=".07"/>
<use href="#d" y="159.7" opacity=".07"/>
<use href="#d" y="164.2" opacity=".04"/>
<use href="#d" y="196" opacity=".09"/>
<use href="#d" y="214" opacity=".09"/>
<use href="#d" y="228.3" opacity=".04"/>
<use href="#d" y="239.9" opacity=".042"/>
<use href="#d" y="252.4" opacity=".042"/>
<use href="#d" y="254.1" opacity=".042"/>
<use href="#d" y="254.6" opacity=".042"/>
<use href="#d" y="257.1" opacity=".042"/>
<use href="#d" y="259.5" opacity=".042"/>
<use href="#d" y="260.7" opacity=".042"/>
<use href="#d" y="261.6" opacity=".042"/>
<use href="#d" y="262.7" opacity=".082"/>
<use href="#d" y="268.5" opacity=".042"/>
<use href="#d" y="271.3" opacity=".082"/>
<use href="#d" y="271.6" opacity=".042"/>
<use href="#d" y="275.4" opacity=".042"/>
<use href="#d" y="277.5" opacity=".042"/>
<use href="#d" y="279.8" opacity=".042"/>
<use href="#d" y="291.6" opacity=".042"/>
<use href="#d" y="293.1" opacity=".042"/>
<use href="#d" y="293.7" opacity=".042"/>
<use href="#d" y="295.2" opacity=".082"/>
<use href="#d" y="297.9" opacity=".042"/>
<use href="#d" y="299.9" opacity=".121"/>
<use href="#d" y="302.1" opacity=".121"/>
<use href="#d" y="302.7" opacity=".042"/>
<use href="#d" y="303.8" opacity=".042"/>
<use href="#d" y="305.1" opacity=".042"/>
<use href="#d" y="305.8" opacity=".042"/>
<use href="#d" y="306.7" opacity=".082"/>
<use href="#d" y="307.9" opacity=".082"/>
<use href="#d" y="308.9" opacity=".082"/>
<use href="#d" y="310.4" opacity=".082"/>
<use href="#d" y="311.2" opacity=".082"/>
<use href="#d" y="312" opacity=".042"/>
<use href="#d" y="312.9" opacity=".042"/>
<use href="#d" y="314.6" opacity=".121"/>
<use href="#d" y="316.3" opacity=".082"/>
<use href="#d" y="317.2" opacity=".042"/>
<use href="#d" y="317.5" opacity=".042"/>
<use href="#d" y="319.5" opacity=".082"/>
<use href="#d" y="319.6" opacity=".082"/>
<use href="#d" y="321.2" opacity=".042"/>
<use href="#d" y="321.6" opacity=".042"/>
<use href="#d" y="323.3" opacity=".042"/>
<use href="#d" y="324.5" opacity=".121"/>
<use href="#d" y="324.9" opacity=".042"/>
<use href="#d" y="326" opacity=".082"/>
<use href="#d" y="326.8" opacity=".042"/>
<use href="#d" y="327.8" opacity=".121"/>
<use href="#d" y="328.9" opacity=".121"/>
<use href="#d" y="329.8" opacity=".121"/>
<use href="#d" y="331.3" opacity=".121"/>
<use href="#d" y="332.4" opacity=".193"/>
<use href="#d" y="333.2" opacity=".082"/>
<use href="#d" y="333.7" opacity=".158"/>
<use href="#d" y="334.9" opacity=".158"/>
<use href="#d" y="335.7" opacity=".158"/>
<use href="#d" y="337.3" opacity=".227"/>
<use href="#d" y="338.3" opacity=".349"/>
<use href="#d" y="339" opacity=".249"/>
<use href="#d" y="340" opacity=".205"/>
<use href="#d" y="341" opacity=".328"/>
<use href="#d" y="342" opacity=".189"/>
<use href="#d" y="343" opacity=".264"/>
<use href="#d" y="344" opacity=".348"/>
<use href="#d" y="345" opacity=".434"/>
<use href="#d" y="346" opacity=".421"/>
<use href="#d" y="347" opacity=".46"/>
<use href="#d" y="348" opacity=".498"/>
<use href="#d" y="349" opacity=".417"/>
<use href="#d" y="350" opacity=".508"/>
<use href="#d" y="351" opacity=".666"/>
<use href="#d" y="352" opacity=".554"/>
<use href="#d" y="353" opacity=".551"/>
<use href="#d" y="354" opacity=".614"/>
<use href="#d" y="355" opacity=".585"/>
<use href="#d" y="356" opacity=".52"/>
<use href="#d" y="357" opacity=".782"/>
<use href="#d" y="358" opacity=".465"/>
<use href="#d" y="359" opacity=".609"/>
<use href="#d" y="360" opacity=".787"/>
<use href="#d" y="361" opacity=".615"/>
<use href="#d" y="362" opacity=".767"/>
<use href="#d" y="363" opacity=".645"/>
<use href="#d" y="364" opacity=".834"/>
<use href="#d" y="365" opacity=".564"/>
<use href="#d" y="366" opacity=".754"/>
<use href="#d" y="367" opacity=".725"/>
<use href="#d" y="368" opacity=".708"/>
<use href="#d" y="369" opacity=".731"/>
<use href="#d" y="370" opacity=".774"/>
<use href="#d" y="371" opacity=".738"/>
<use href="#d" y="372" opacity=".813"/>
<use href="#d" y="373" opacity=".719"/>
<use href="#d" y="374" opacity=".873"/>
<use href="#d" y="375" opacity=".885"/>
<use href="#d" y="376" opacity=".812"/>
<use href="#d" y="377" opacity=".656"/>
<use href="#d" y="378" opacity=".783"/>
<use href="#d" y="379" opacity=".904"/>
<use href="#d" y="380" opacity=".924"/>
<use href="#d" y="381" opacity=".831"/>
<use href="#d" y="382" opacity=".801"/>
<use href="#d" y="383" opacity=".951"/>
<use href="#d" y="384" opacity=".831"/>
<use href="#d" y="385" opacity=".915"/>
<use href="#d" y="386" opacity=".85"/>
<use href="#d" y="387" opacity=".841"/>
<use href="#d" y="388" opacity=".922"/>
<use href="#d" y="389" opacity=".963"/>
<use href="#d" y="390" opacity=".903"/>
<use href="#d" y="391" opacity=".928"/>
<use href="#d" y="392" opacity=".936"/>
<use href="#d" y="393" opacity=".951"/>
<use href="#d" y="394" opacity=".944"/>
<use href="#d" y="395" opacity=".986"/>
<use href="#d" y="396" opacity=".907"/>
<use href="#d" y="397" opacity=".968"/>
<use href="#d" y="398" opacity=".961"/>
<use href="#d" y="399" opacity=".97"/>
<use href="#d" y="400" opacity=".898"/>
<use href="#d" y="401" opacity=".906"/>
<use href="#d" y="402" opacity=".957"/>
<use href="#d" y="403" opacity=".981"/>
<use href="#d" y="404" opacity=".989"/>
<use href="#d" y="405" opacity=".95"/>
<use href="#d" y="406" opacity=".963"/>
<use href="#d" y="407" opacity=".992"/>
<use href="#d" y="408" opacity=".955"/>
<use href="#d" y="409" opacity=".996"/>
<use href="#d" y="410" opacity=".954"/>
<use href="#d" y="411" opacity=".928"/>
<use href="#d" y="412" opacity=".928"/>
<use href="#d" y="413" opacity=".973"/>
<use href="#d" y="414" opacity=".962"/>
<use href="#d" y="415" opacity=".995"/>
<use href="#d" y="416" opacity=".999"/>
<use href="#d" y="417" opacity=".978"/>
<use href="#d" y="418" opacity=".992"/>
<use href="#d" y="419" opacity=".997"/>
<use href="#d" y="420" opacity=".981"/>
<use href="#d" y="421" opacity=".998"/>
<use href="#d" y="422" opacity=".999"/>
<use href="#d" y="423" opacity=".996"/>
<use href="#d" y="424" opacity=".995"/>
<use href="#d" y="425" opacity=".998"/>
<use href="#d" y="426" opacity=".994"/>
<use href="#d" y="427" opacity=".999"/>
<use href="#d" y="428" opacity=".999"/>
<use href="#d" y="429" opacity=".999"/>
<use href="#d" y="430" opacity=".993"/>
<use href="#d" y="431" opacity="1"/>
<use href="#d" y="432" opacity="1"/>
<use href="#d" y="433" opacity=".997"/>
<use href="#d" y="434" opacity="1"/>
<use href="#d" y="619" opacity="1"/>
<use href="#d" y="620" opacity=".997"/>
<use href="#d" y="621" opacity=".991"/>
<use href="#d" y="622" opacity=".994"/>
<use href="#d" y="623" opacity=".997"/>
<use href="#d" y="624" opacity=".969"/>
<use href="#d" y="625" opacity=".999"/>
<use href="#d" y="626" opacity=".996"/>
<use href="#d" y="627" opacity=".991"/>
<use href="#d" y="628" opacity=".997"/>
<use href="#d" y="629" opacity=".998"/>
<use href="#d" y="630" opacity=".999"/>
<use href="#d" y="631" opacity="1"/>
<use href="#d" y="632" opacity=".993"/>
<use href="#d" y="633" opacity=".997"/>
<use href="#d" y="634" opacity=".996"/>
<use href="#d" y="635" opacity=".966"/>
<use href="#d" y="636" opacity=".999"/>
<use href="#d" y="637" opacity=".981"/>
<use href="#d" y="638" opacity=".99"/>
<use href="#d" y="639" opacity=".974"/>
<use href="#d" y="640" opacity=".982"/>
<use href="#d" y="641" opacity=".997"/>
<use href="#d" y="642" opacity=".987"/>
<use href="#d" y="643" opacity=".998"/>
<use href="#d" y="644" opacity=".976"/>
<use href="#d" y="645" opacity=".975"/>
<use href="#d" y="646" opacity=".958"/>
<use href="#d" y="647" opacity=".923"/>
<use href="#d" y="648" opacity=".952"/>
<use href="#d" y="649" opacity=".968"/>
<use href="#d" y="650" opacity=".919"/>
<use href="#d" y="651" opacity=".996"/>
<use href="#d" y="652" opacity=".977"/>
<use href="#d" y="653" opacity=".947"/>
<use href="#d" y="654" opacity=".989"/>
<use href="#d" y="655" opacity=".852"/>
<use href="#d" y="656" opacity=".956"/>
<use href="#d" y="657" opacity=".924"/>
<use href="#d" y="658" opacity=".943"/>
<use href="#d" y="659" opacity=".856"/>
<use href="#d" y="660" opacity=".935"/>
<use href="#d" y="661" opacity=".915"/>
<use href="#d" y="662" opacity=".823"/>
<use href="#d" y="663" opacity=".848"/>
<use href="#d" y="664" opacity=".808"/>
<use href="#d" y="665" opacity=".854"/>
<use href="#d" y="666" opacity=".8"/>
<use href="#d" y="667" opacity=".939"/>
<use href="#d" y="668" opacity=".682"/>
<use href="#d" y="669" opacity=".933"/>
<use href="#d" y="670" opacity=".819"/>
<use href="#d" y="671" opacity=".804"/>
<use href="#d" y="672" opacity=".633"/>
<use href="#d" y="673" opacity=".855"/>
<use href="#d" y="674" opacity=".823"/>
<use href="#d" y="675" opacity=".742"/>
<use href="#d" y="676" opacity=".583"/>
<use href="#d" y="677" opacity=".883"/>
<use href="#d" y="678" opacity=".63"/>
<use href="#d" y="679" opacity=".527"/>
<use href="#d" y="680" opacity=".497"/>
<use href="#d" y="681" opacity=".682"/>
<use href="#d" y="682" opacity=".68"/>
<use href="#d" y="683" opacity=".49"/>
<use href="#d" y="684" opacity=".553"/>
<use href="#d" y="685" opacity=".675"/>
<use href="#d" y="686" opacity=".492"/>
<use href="#d" y="687" opacity=".422"/>
<use href="#d" y="688" opacity=".406"/>
<use href="#d" y="689" opacity=".546"/>
<use href="#d" y="690" opacity=".415"/>
<use href="#d" y="691" opacity=".415"/>
<use href="#d" y="692" opacity=".308"/>
<use href="#d" y="693" opacity=".331"/>
<use href="#d" y="694" opacity=".404"/>
<use href="#d" y="695" opacity=".355"/>
<use href="#d" y="696" opacity=".341"/>
<use href="#d" y="697" opacity=".29"/>
<use href="#d" y="698" opacity=".351"/>
<use href="#d" y="699" opacity=".355"/>
<use href="#d" y="700" opacity=".309"/>
<use href="#d" y="701" opacity=".195"/>
<use href="#d" y="702" opacity=".365"/>
<use href="#d" y="703" opacity=".252"/>
<use href="#d" y="704.4" opacity=".227"/>
<use href="#d" y="705.4" opacity=".158"/>
<use href="#d" y="706.3" opacity=".349"/>
<use href="#d" y="707.3" opacity=".082"/>
<use href="#d" y="707.6" opacity=".042"/>
<use href="#d" y="709.2" opacity=".158"/>
<use href="#d" y="710" opacity=".349"/>
<use href="#d" y="711" opacity=".259"/>
<use href="#d" y="711.5" opacity=".259"/>
<use href="#d" y="713" opacity=".259"/>
<use href="#d" y="713.7" opacity=".158"/>
<use href="#d" y="714.9" opacity=".042"/>
<use href="#d" y="715.7" opacity=".158"/>
<use href="#d" y="716.7" opacity=".121"/>
<use href="#d" y="718" opacity=".082"/>
<use href="#d" y="718.9" opacity=".082"/>
<use href="#d" y="719.9" opacity=".042"/>
<use href="#d" y="721.4" opacity=".121"/>
<use href="#d" y="721.6" opacity=".082"/>
<use href="#d" y="722.7" opacity=".042"/>
<use href="#d" y="724.4" opacity=".042"/>
<use href="#d" y="724.5" opacity=".158"/>
<use href="#d" y="726" opacity=".042"/>
<use href="#d" y="726.9" opacity=".082"/>
<use href="#d" y="728.3" opacity=".082"/>
<use href="#d" y="729.3" opacity=".259"/>
<use href="#d" y="730.3" opacity=".193"/>
<use href="#d" y="731.4" opacity=".042"/>
<use href="#d" y="732.6" opacity=".193"/>
<use href="#d" y="733.6" opacity=".082"/>
<use href="#d" y="734.6" opacity=".042"/>
<use href="#d" y="736.3" opacity=".082"/>
<use href="#d" y="737.3" opacity=".042"/>
<use href="#d" y="738.2" opacity=".082"/>
<use href="#d" y="738.8" opacity=".082"/>
<use href="#d" y="740.2" opacity=".121"/>
<use href="#d" y="740.7" opacity=".158"/>
<use href="#d" y="741.9" opacity=".082"/>
<use href="#d" y="742.7" opacity=".158"/>
<use href="#d" y="744" opacity=".193"/>
<use href="#d" y="745.5" opacity=".193"/>
<use href="#d" y="746.1" opacity=".121"/>
<use href="#d" y="746.7" opacity=".121"/>
<use href="#d" y="749.1" opacity=".121"/>
<use href="#d" y="749.8" opacity=".042"/>
<use href="#d" y="750.8" opacity=".082"/>
<use href="#d" y="751.8" opacity=".082"/>
<use href="#d" y="753" opacity=".042"/>
<use href="#d" y="754.2" opacity=".042"/>
<use href="#d" y="755.1" opacity=".082"/>
<use href="#d" y="757.1" opacity=".082"/>
<use href="#d" y="757.5" opacity=".082"/>
<use href="#d" y="760.2" opacity=".042"/>
<use href="#d" y="761.5" opacity=".042"/>
<use href="#d" y="763.4" opacity=".121"/>
<use href="#d" y="763.9" opacity=".082"/>
<use href="#d" y="764.9" opacity=".121"/>
<use href="#d" y="768.9" opacity=".042"/>
<use href="#d" y="771.5" opacity=".082"/>
<use href="#d" y="771.8" opacity=".158"/>
<use href="#d" y="774.9" opacity=".042"/>
<use href="#d" y="775.8" opacity=".042"/>
<use href="#d" y="779.2" opacity=".042"/>
<use href="#d" y="780.5" opacity=".082"/>
<use href="#d" y="783.3" opacity=".082"/>
<use href="#d" y="784.2" opacity=".082"/>
<use href="#d" y="785.4" opacity=".082"/>
<use href="#d" y="786.1" opacity=".042"/>
<use href="#d" y="788.5" opacity=".042"/>
<use href="#d" y="790.1" opacity=".082"/>
<use href="#d" y="792.2" opacity=".042"/>
<use href="#d" y="793.1" opacity=".042"/>
<use href="#d" y="794.4" opacity=".082"/>
<use href="#d" y="794.9" opacity=".121"/>
<use href="#d" y="795.7" opacity=".082"/>
<use href="#d" y="798.7" opacity=".082"/>
<use href="#d" y="799.8" opacity=".042"/>
<use href="#d" y="801.3" opacity=".042"/>
<use href="#d" y="804.5" opacity=".121"/>
<use href="#d" y="804.7" opacity=".121"/>
<use href="#d" y="806.4" opacity=".121"/>
<use href="#d" y="807.3" opacity=".042"/>
<use href="#d" y="807.7" opacity=".042"/>
<use href="#d" y="808.8" opacity=".042"/>
<use href="#d" y="813.5" opacity=".042"/>
<use href="#d" y="814.7" opacity=".042"/>
<use href="#d" y="815.6" opacity=".042"/>
<use href="#d" y="817.2" opacity=".082"/>
<use href="#d" y="818" opacity=".042"/>
<use href="#d" y="820.7" opacity=".042"/>
<use href="#d" y="822.5" opacity=".082"/>
<use href="#d" y="824.4" opacity=".042"/>
<use href="#d" y="824.9" opacity=".082"/>
<use href="#d" y="826.9" opacity=".082"/>
<use href="#d" y="833.3" opacity=".082"/>
<use href="#d" y="835.5" opacity=".042"/>
<use href="#d" y="838" opacity=".042"/>
<use href="#d" y="840" opacity=".042"/>
<use href="#d" y="840.6" opacity=".042"/>
<use href="#d" y="842.4" opacity=".042"/>
<use href="#d" y="843.1" opacity=".121"/>
<use href="#d" y="845.4" opacity=".042"/>
<use href="#d" y="849.9" opacity=".042"/>
<use href="#d" y="850.7" opacity=".042"/>
<use href="#d" y="857.1" opacity=".042"/>
<use href="#d" y="857.7" opacity=".042"/>
<use href="#d" y="858.7" opacity=".042"/>
<use href="#d" y="861.1" opacity=".121"/>
<use href="#d" y="863.5" opacity=".082"/>
<use href="#d" y="864.3" opacity=".042"/>
<use href="#d" y="866.9" opacity=".042"/>
<use href="#d" y="868.2" opacity=".042"/>
<use href="#d" y="868.7" opacity=".042"/>
<use href="#d" y="873.3" opacity=".042"/>
<use href="#d" y="875.5" opacity=".042"/>
<use href="#d" y="880.6" opacity=".042"/>
<use href="#d" y="888.9" opacity=".042"/>
<use href="#d" y="896.2" opacity=".082"/>
<use href="#d" y="897.1" opacity=".042"/>
<use href="#d" y="897.8" opacity=".042"/>
<use href="#d" y="908.1" opacity=".082"/>
<use href="#d" y="910.8" opacity=".082"/>
<use href="#d" y="911.9" opacity=".082"/>
<use href="#d" y="913.6" opacity=".042"/>
<use href="#d" y="915.7" opacity=".042"/>
<use href="#d" y="917" opacity=".042"/>
<use href="#d" y="922.9" opacity=".042"/>
<use href="#d" y="925.6" opacity=".042"/>
<use href="#d" y="930" opacity=".042"/>
<use href="#d" y="930.8" opacity=".082"/>
<use href="#d" y="932.7" opacity=".042"/>
<use href="#d" y="933.6" opacity=".042"/>
<use href="#d" y="934.8" opacity=".042"/>
<use href="#d" y="936.3" opacity=".042"/>
<use href="#d" y="937.6" opacity=".042"/>
<use href="#d" y="938.6" opacity=".042"/>
<use href="#d" y="944.2" opacity=".042"/>
<use href="#d" y="945.3" opacity=".042"/>
<use href="#d" y="947.4" opacity=".042"/>
<use href="#d" y="948.4" opacity=".042"/>
<use href="#d" y="957.1" opacity=".042"/>
<use href="#d" y="959" opacity=".042"/>
<use href="#d" y="960.3" opacity=".042"/>
<use href="#d" y="967.3" opacity=".082"/>
<use href="#d" y="968.8" opacity=".042"/>
<use href="#d" y="970.6" opacity=".042"/>
<use href="#d" y="972.2" opacity=".042"/>
<use href="#d" y="974" opacity=".082"/>
<use href="#d" y="974.5" opacity=".042"/>
<use href="#d" y="976.3" opacity=".042"/>
<use href="#d" y="980.9" opacity=".082"/>
<use href="#d" y="981.8" opacity=".042"/>
<use href="#d" y="989.7" opacity=".042"/>
<use href="#d" y="991.8" opacity=".042"/>
<use href="#d" y="994" opacity=".042"/>
<use href="#d" y="995.4" opacity=".042"/>
<use href="#d" y="998.5" opacity=".082"/>
<use href="#d" y="999.7" opacity=".082"/>
<use href="#d" y="1004" opacity=".042"/>
<use href="#d" y="1005.3" opacity=".042"/>
<use href="#d" y="1005.6" opacity=".082"/>
<use href="#d" y="1008.8" opacity=".082"/>
<use href="#d" y="1011.2" opacity=".082"/>
<use href="#d" y="1013.3" opacity=".042"/>
<use href="#d" y="1014.3" opacity=".042"/>
<use href="#d" y="1017.1" opacity=".042"/>
<use href="#d" y="1028.4" opacity=".042"/>
<use href="#d" y="1030.5" opacity=".042"/>
<use href="#d" y="1034.2" opacity=".042"/>
<use href="#d" y="1034.8" opacity=".082"/>
<use href="#d" y="1042.4" opacity=".042"/>
<use href="#d" y="1042.9" opacity=".042"/>
<use href="#d" y="1057.3" opacity=".042"/>
<use href="#d" y="1061.2" opacity=".082"/>
<use href="#d" y="1062.9" opacity=".082"/>
<use href="#d" y="1066.3" opacity=".042"/>
<use href="#d" y="1073.5" opacity=".042"/>
<use href="#d" y="1075.4" opacity=".042"/>
<use href="#d" y="1078.1" opacity=".042"/>
<use href="#d" y="1081.4" opacity=".042"/>
<use href="#d" y="1083.2" opacity=".042"/>
<use href="#d" y="1084.7" opacity=".042"/>
<use href="#d" y="1087.5" opacity=".082"/>
<use href="#d" y="1088.1" opacity=".042"/>
<use href="#d" y="1098.5" opacity=".042"/>
<use href="#d" y="1104.7" opacity=".042"/>
<use href="#d" y="1106.1" opacity=".042"/>
<use href="#d" y="1108" opacity=".042"/>
<use href="#d" y="1116.3" opacity=".05"/>
<use href="#d" y="1128.2" opacity=".05"/>
<use href="#d" y="1142" opacity=".04"/>
<use href="#d" y="1153" opacity=".06"/>
<use href="#d" y="1158" opacity=".06"/>
<use href="#d" y="1165.6" opacity=".05"/>
<use href="#d" y="1184.3" opacity=".2"/>
</g>
<g transform="translate(2169.12 0)" fill="#000">
<path d="M-8.5 430 H8.5 L8.8 450 V486.3 L0 495.1 L-8.8 486.3 V450Z"/>
<path d="M0 567.6 L8.8 576.4 V600 L8.5 620 H-8.5 L-8.8 600 V576.4Z"/>
<use href="#d" y="156.9" opacity=".07"/>
<use href="#d" y="159.7" opacity=".07"/>
<use href="#d" y="164.2" opacity=".04"/>
<use href="#d" y="196" opacity=".09"/>
<use href="#d" y="214" opacity=".09"/>
<use href="#d" y="228.3" opacity=".04"/>
<use href="#d" y="239.9" opacity=".042"/>
<use href="#d" y="252.4" opacity=".042"/>
<use href="#d" y="254.1" opacity=".042"/>
<use href="#d" y="254.6" opacity=".042"/>
<use href="#d" y="257.1" opacity=".042"/>
<use href="#d" y="259.5" opacity=".042"/>
<use href="#d" y="260.7" opacity=".042"/>
<use href="#d" y="261.6" opacity=".042"/>
<use href="#d" y="262.7" opacity=".082"/>
<use href="#d" y="268.5" opacity=".042"/>
<use href="#d" y="271.3" opacity=".082"/>
<use href="#d" y="271.6" opacity=".042"/>
<use href="#d" y="275.4" opacity=".042"/>
<use href="#d" y="277.5" opacity=".042"/>
<use href="#d" y="279.8" opacity=".042"/>
<use href="#d" y="291.6" opacity=".042"/>
<use href="#d" y="293.1" opacity=".042"/>
<use href="#d" y="293.7" opacity=".042"/>
<use href="#d" y="295.2" opacity=".082"/>
<use href="#d" y="297.9" opacity=".042"/>
<use href="#d" y="299.9" opacity=".121"/>
<use href="#d" y="302.1" opacity=".121"/>
<use href="#d" y="302.7" opacity=".042"/>
<use href="#d" y="303.8" opacity=".042"/>
<use href="#d" y="305.1" opacity=".042"/>
<use href="#d" y="305.8" opacity=".042"/>
<use href="#d" y="306.7" opacity=".082"/>
<use href="#d" y="307.9" opacity=".082"/>
<use href="#d" y="308.9" opacity=".082"/>
<use href="#d" y="310.4" opacity=".082"/>
<use href="#d" y="311.2" opacity=".082"/>
<use href="#d" y="312" opacity=".042"/>
<use href="#d" y="312.9" opacity=".042"/>
<use href="#d" y="314.6" opacity=".121"/>
<use href="#d" y="316.3" opacity=".082"/>
<use href="#d" y="317.2" opacity=".042"/>
<use href="#d" y="317.5" opacity=".042"/>
<use href="#d" y="319.5" opacity=".082"/>
<use href="#d" y="319.6" opacity=".082"/>
<use href="#d" y="321.2" opacity=".042"/>
<use href="#d" y="321.6" opacity=".042"/>
<use href="#d" y="323.3" opacity=".042"/>
<use href="#d" y="324.5" opacity=".121"/>
<use href="#d" y="324.9" opacity=".042"/>
<use href="#d" y="326" opacity=".082"/>
<use href="#d" y="326.8" opacity=".042"/>
<use href="#d" y="327.8" opacity=".121"/>
<use href="#d" y="328.9" opacity=".121"/>
<use href="#d" y="329.8" opacity=".121"/>
<use href="#d" y="331.3" opacity=".121"/>
<use href="#d" y="332.4" opacity=".193"/>
<use href="#d" y="333.2" opacity=".082"/>
<use href="#d" y="333.7" opacity=".158"/>
<use href="#d" y="334.9" opacity=".158"/>
<use href="#d" y="335.7" opacity=".158"/>
<use href="#d" y="337.3" opacity=".227"/>
<use href="#d" y="338.3" opacity=".349"/>
<use href="#d" y="339" opacity=".249"/>
<use href="#d" y="340" opacity=".205"/>
<use href="#d" y="341" opacity=".328"/>
<use href="#d" y="342" opacity=".189"/>
<use href="#d" y="343" opacity=".264"/>
<use href="#d" y="344" opacity=".348"/>
<use href="#d" y="345" opacity=".434"/>
<use href="#d" y="346" opacity=".421"/>
<use href="#d" y="347" opacity=".46"/>
<use href="#d" y="348" opacity=".498"/>
<use href="#d" y="349" opacity=".417"/>
<use href="#d" y="350" opacity=".508"/>
<use href="#d" y="351" opacity=".666"/>
<use href="#d" y="352" opacity=".554"/>
<use href="#d" y="353" opacity=".551"/>
<use href="#d" y="354" opacity=".614"/>
<use href="#d" y="355" opacity=".585"/>
<use href="#d" y="356" opacity=".52"/>
<use href="#d" y="357" opacity=".782"/>
<use href="#d" y="358" opacity=".465"/>
<use href="#d" y="359" opacity=".609"/>
<use href="#d" y="360" opacity=".787"/>
<use href="#d" y="361" opacity=".615"/>
<use href="#d" y="362" opacity=".767"/>
<use href="#d" y="363" opacity=".645"/>
<use href="#d" y="364" opacity=".834"/>
<use href="#d" y="365" opacity=".564"/>
<use href="#d" y="366" opacity=".754"/>
<use href="#d" y="367" opacity=".725"/>
<use href="#d" y="368" opacity=".708"/>
<use href="#d" y="369" opacity=".731"/>
<use href="#d" y="370" opacity=".774"/>
<use href="#d" y="371" opacity=".738"/>
<use href="#d" y="372" opacity=".813"/>
<use href="#d" y="373" opacity=".719"/>
<use href="#d" y="374" opacity=".873"/>
<use href="#d" y="375" opacity=".885"/>
<use href="#d" y="376" opacity=".812"/>
<use href="#d" y="377" opacity=".656"/>
<use href="#d" y="378" opacity=".783"/>
<use href="#d" y="379" opacity=".904"/>
<use href="#d" y="380" opacity=".924"/>
<use href="#d" y="381" opacity=".831"/>
<use href="#d" y="382" opacity=".801"/>
<use href="#d" y="383" opacity=".951"/>
<use href="#d" y="384" opacity=".831"/>
<use href="#d" y="385" opacity=".915"/>
<use href="#d" y="386" opacity=".85"/>
<use href="#d" y="387" opacity=".841"/>
<use href="#d" y="388" opacity=".922"/>
<use href="#d" y="389" opacity=".963"/>
<use href="#d" y="390" opacity=".903"/>
<use href="#d" y="391" opacity=".928"/>
<use href="#d" y="392" opacity=".936"/>
<use href="#d" y="393" opacity=".951"/>
<use href="#d" y="394" opacity=".944"/>
<use href="#d" y="395" opacity=".986"/>
<use href="#d" y="396" opacity=".907"/>
<use href="#d" y="397" opacity=".968"/>
<use href="#d" y="398" opacity=".961"/>
<use href="#d" y="399" opacity=".97"/>
<use href="#d" y="400" opacity=".898"/>
<use href="#d" y="401" opacity=".906"/>
<use href="#d" y="402" opacity=".957"/>
<use href="#d" y="403" opacity=".981"/>
<use href="#d" y="404" opacity=".989"/>
<use href="#d" y="405" opacity=".95"/>
<use href="#d" y="406" opacity=".963"/>
<use href="#d" y="407" opacity=".992"/>
<use href="#d" y="408" opacity=".955"/>
<use href="#d" y="409" opacity=".996"/>
<use href="#d" y="410" opacity=".954"/>
<use href="#d" y="411" opacity=".928"/>
<use href="#d" y="412" opacity=".928"/>
<use href="#d" y="413" opacity=".973"/>
<use href="#d" y="414" opacity=".962"/>
<use href="#d" y="415" opacity=".995"/>
<use href="#d" y="416" opacity=".999"/>
<use href="#d" y="417" opacity=".978"/>
<use href="#d" y="418" opacity=".992"/>
<use href="#d" y="419" opacity=".997"/>
<use href="#d" y="420" opacity=".981"/>
<use href="#d" y="421" opacity=".998"/>
<use href="#d" y="422" opacity=".999"/>
<use href="#d" y="423" opacity=".996"/>
<use href="#d" y="424" opacity=".995"/>
<use href="#d" y="425" opacity=".998"/>
<use href="#d" y="426" opacity=".994"/>
<use href="#d" y="427" opacity=".999"/>
<use href="#d" y="428" opacity=".999"/>
<use href="#d" y="429" opacity=".999"/>
<use href="#d" y="430" opacity=".993"/>
<use href="#d" y="431" opacity="1"/>
<use href="#d" y="432" opacity="1"/>
<use href="#d" y="433" opacity=".997"/>
<use href="#d" y="434" opacity="1"/>
<use href="#d" y="619" opacity="1"/>
<use href="#d" y="620" opacity=".997"/>
<use href="#d" y="621" opacity=".991"/>
<use href="#d" y="622" opacity=".994"/>
<use href="#d" y="623" opacity=".997"/>
<use href="#d" y="624" opacity=".969"/>
<use href="#d" y="625" opacity=".999"/>
<use href="#d" y="626" opacity=".996"/>
<use href="#d" y="627" opacity=".991"/>
<use href="#d" y="628" opacity=".997"/>
<use href="#d" y="629" opacity=".998"/>
<use href="#d" y="630" opacity=".999"/>
<use href="#d" y="631" opacity="1"/>
<use href="#d" y="632" opacity=".993"/>
<use href="#d" y="633" opacity=".997"/>
<use href="#d" y="634" opacity=".996"/>
<use href="#d" y="635" opacity=".966"/>
<use href="#d" y="636" opacity=".999"/>
<use href="#d" y="637" opacity=".981"/>
<use href="#d" y="638" opacity=".99"/>
<use href="#d" y="639" opacity=".974"/>
<use href="#d" y="640" opacity=".982"/>
<use href="#d" y="641" opacity=".997"/>
<use href="#d" y="642" opacity=".987"/>
<use href="#d" y="643" opacity=".998"/>
<use href="#d" y="644" opacity=".976"/>
<use href="#d" y="645" opacity=".975"/>
<use href="#d" y="646" opacity=".958"/>
<use href="#d" y="647" opacity=".923"/>
<use href="#d" y="648" opacity=".952"/>
<use href="#d" y="649" opacity=".968"/>
<use href="#d" y="650" opacity=".919"/>
<use href="#d" y="651" opacity=".996"/>
<use href="#d" y="652" opacity=".977"/>
<use href="#d" y="653" opacity=".947"/>
<use href="#d" y="654" opacity=".989"/>
<use href="#d" y="655" opacity=".852"/>
<use href="#d" y="656" opacity=".956"/>
<use href="#d" y="657" opacity=".924"/>
<use href="#d" y="658" opacity=".943"/>
<use href="#d" y="659" opacity=".856"/>
<use href="#d" y="660" opacity=".935"/>
<use href="#d" y="661" opacity=".915"/>
<use href="#d" y="662" opacity=".823"/>
<use href="#d" y="663" opacity=".848"/>
<use href="#d" y="664" opacity=".808"/>
<use href="#d" y="665" opacity=".854"/>
<use href="#d" y="666" opacity=".8"/>
<use href="#d" y="667" opacity=".939"/>
<use href="#d" y="668" opacity=".682"/>
<use href="#d" y="669" opacity=".933"/>
<use href="#d" y="670" opacity=".819"/>
<use href="#d" y="671" opacity=".804"/>
<use href="#d" y="672" opacity=".633"/>
<use href="#d" y="673" opacity=".855"/>
<use href="#d" y="674" opacity=".823"/>
<use href="#d" y="675" opacity=".742"/>
<use href="#d" y="676" opacity=".583"/>
<use href="#d" y="677" opacity=".883"/>
<use href="#d" y="678" opacity=".63"/>
<use href="#d" y="679" opacity=".527"/>
<use href="#d" y="680" opacity=".497"/>
<use href="#d" y="681" opacity=".682"/>
<use href="#d" y="682" opacity=".68"/>
<use href="#d" y="683" opacity=".49"/>
<use href="#d" y="684" opacity=".553"/>
<use href="#d" y="685" opacity=".675"/>
<use href="#d" y="686" opacity=".492"/>
<use href="#d" y="687" opacity=".422"/>
<use href="#d" y="688" opacity=".406"/>
<use href="#d" y="689" opacity=".546"/>
<use href="#d" y="690" opacity=".415"/>
<use href="#d" y="691" opacity=".415"/>
<use href="#d" y="692" opacity=".308"/>
<use href="#d" y="693" opacity=".331"/>
<use href="#d" y="694" opacity=".404"/>
<use href="#d" y="695" opacity=".355"/>
<use href="#d" y="696" opacity=".341"/>
<use href="#d" y="697" opacity=".29"/>
<use href="#d" y="698" opacity=".351"/>
<use href="#d" y="699" opacity=".355"/>
<use href="#d" y="700" opacity=".309"/>
<use href="#d" y="701" opacity=".195"/>
<use href="#d" y="702" opacity=".365"/>
<use href="#d" y="703" opacity=".252"/>
<use href="#d" y="704.4" opacity=".227"/>
<use href="#d" y="705.4" opacity=".158"/>
<use href="#d" y="706.3" opacity=".349"/>
<use href="#d" y="707.3" opacity=".082"/>
<use href="#d" y="707.6" opacity=".042"/>
<use href="#d" y="709.2" opacity=".158"/>
<use href="#d" y="710" opacity=".349"/>
<use href="#d" y="711" opacity=".259"/>
<use href="#d" y="711.5" opacity=".259"/>
<use href="#d" y="713" opacity=".259"/>
<use href="#d" y="713.7" opacity=".158"/>
<use href="#d" y="714.9" opacity=".042"/>
<use href="#d" y="715.7" opacity=".158"/>
<use href="#d" y="716.7" opacity=".121"/>
<use href="#d" y="718" opacity=".082"/>
<use href="#d" y="718.9" opacity=".082"/>
<use href="#d" y="719.9" opacity=".042"/>
<use href="#d" y="721.4" opacity=".121"/>
<use href="#d" y="721.6" opacity=".082"/>
<use href="#d" y="722.7" opacity=".042"/>
<use href="#d" y="724.4" opacity=".042"/>
<use href="#d" y="724.5" opacity=".158"/>
<use href="#d" y="726" opacity=".042"/>
<use href="#d" y="726.9" opacity=".082"/>
<use href="#d" y="728.3" opacity=".082"/>
<use href="#d" y="729.3" opacity=".259"/>
<use href="#d" y="730.3" opacity=".193"/>
<use href="#d" y="731.4" opacity=".042"/>
<use href="#d" y="732.6" opacity=".193"/>
<use href="#d" y="733.6" opacity=".082"/>
<use href="#d" y="734.6" opacity=".042"/>
<use href="#d" y="736.3" opacity=".082"/>
<use href="#d" y="737.3" opacity=".042"/>
<use href="#d" y="738.2" opacity=".082"/>
<use href="#d" y="738.8" opacity=".082"/>
<use href="#d" y="740.2" opacity=".121"/>
<use href="#d" y="740.7" opacity=".158"/>
<use href="#d" y="741.9" opacity=".082"/>
<use href="#d" y="742.7" opacity=".158"/>
<use href="#d" y="744" opacity=".193"/>
<use href="#d" y="745.5" opacity=".193"/>
<use href="#d" y="746.1" opacity=".121"/>
<use href="#d" y="746.7" opacity=".121"/>
<use href="#d" y="749.1" opacity=".121"/>
<use href="#d" y="749.8" opacity=".042"/>
<use href="#d" y="750.8" opacity=".082"/>
<use href="#d" y="751.8" opacity=".082"/>
<use href="#d" y="753" opacity=".042"/>
<use href="#d" y="754.2" opacity=".042"/>
<use href="#d" y="755.1" opacity=".082"/>
<use href="#d" y="757.1" opacity=".082"/>
<use href="#d" y="757.5" opacity=".082"/>
<use href="#d" y="760.2" opacity=".042"/>
<use href="#d" y="761.5" opacity=".042"/>
<use href="#d" y="763.4" opacity=".121"/>
<use href="#d" y="763.9" opacity=".082"/>
<use href="#d" y="764.9" opacity=".121"/>
<use href="#d" y="768.9" opacity=".042"/>
<use href="#d" y="771.5" opacity=".082"/>
<use href="#d" y="771.8" opacity=".158"/>
<use href="#d" y="774.9" opacity=".042"/>
<use href="#d" y="775.8" opacity=".042"/>
<use href="#d" y="779.2" opacity=".042"/>
<use href="#d" y="780.5" opacity=".082"/>
<use href="#d" y="783.3" opacity=".082"/>
<use href="#d" y="784.2" opacity=".082"/>
<use href="#d" y="785.4" opacity=".082"/>
<use href="#d" y="786.1" opacity=".042"/>
<use href="#d" y="788.5" opacity=".042"/>
<use href="#d" y="790.1" opacity=".082"/>
<use href="#d" y="792.2" opacity=".042"/>
<use href="#d" y="793.1" opacity=".042"/>
<use href="#d" y="794.4" opacity=".082"/>
<use href="#d" y="794.9" opacity=".121"/>
<use href="#d" y="795.7" opacity=".082"/>
<use href="#d" y="798.7" opacity=".082"/>
<use href="#d" y="799.8" opacity=".042"/>
<use href="#d" y="801.3" opacity=".042"/>
<use href="#d" y="804.5" opacity=".121"/>
<use href="#d" y="804.7" opacity=".121"/>
<use href="#d" y="806.4" opacity=".121"/>
<use href="#d" y="807.3" opacity=".042"/>
<use href="#d" y="807.7" opacity=".042"/>
<use href="#d" y="808.8" opacity=".042"/>
<use href="#d" y="813.5" opacity=".042"/>
<use href="#d" y="814.7" opacity=".042"/>
<use href="#d" y="815.6" opacity=".042"/>
<use href="#d" y="817.2" opacity=".082"/>
<use href="#d" y="818" opacity=".042"/>
<use href="#d" y="820.7" opacity=".042"/>
<use href="#d" y="822.5" opacity=".082"/>
<use href="#d" y="824.4" opacity=".042"/>
<use href="#d" y="824.9" opacity=".082"/>
<use href="#d" y="826.9" opacity=".082"/>
<use href="#d" y="833.3" opacity=".082"/>
<use href="#d" y="835.5" opacity=".042"/>
<use href="#d" y="838" opacity=".042"/>
<use href="#d" y="840" opacity=".042"/>
<use href="#d" y="840.6" opacity=".042"/>
<use href="#d" y="842.4" opacity=".042"/>
<use href="#d" y="843.1" opacity=".121"/>
<use href="#d" y="845.4" opacity=".042"/>
<use href="#d" y="849.9" opacity=".042"/>
<use href="#d" y="850.7" opacity=".042"/>
<use href="#d" y="857.1" opacity=".042"/>
<use href="#d" y="857.7" opacity=".042"/>
<use href="#d" y="858.7" opacity=".042"/>
<use href="#d" y="861.1" opacity=".121"/>
<use href="#d" y="863.5" opacity=".082"/>
<use href="#d" y="864.3" opacity=".042"/>
<use href="#d" y="866.9" opacity=".042"/>
<use href="#d" y="868.2" opacity=".042"/>
<use href="#d" y="868.7" opacity=".042"/>
<use href="#d" y="873.3" opacity=".042"/>
<use href="#d" y="875.5" opacity=".042"/>
<use href="#d" y="880.6" opacity=".042"/>
<use href="#d" y="888.9" opacity=".042"/>
<use href="#d" y="896.2" opacity=".082"/>
<use href="#d" y="897.1" opacity=".042"/>
<use href="#d" y="897.8" opacity=".042"/>
<use href="#d" y="908.1" opacity=".082"/>
<use href="#d" y="910.8" opacity=".082"/>
<use href="#d" y="911.9" opacity=".082"/>
<use href="#d" y="913.6" opacity=".042"/>
<use href="#d" y="915.7" opacity=".042"/>
<use href="#d" y="917" opacity=".042"/>
<use href="#d" y="922.9" opacity=".042"/>
<use href="#d" y="925.6" opacity=".042"/>
<use href="#d" y="930" opacity=".042"/>
<use href="#d" y="930.8" opacity=".082"/>
<use href="#d" y="932.7" opacity=".042"/>
<use href="#d" y="933.6" opacity=".042"/>
<use href="#d" y="934.8" opacity=".042"/>
<use href="#d" y="936.3" opacity=".042"/>
<use href="#d" y="937.6" opacity=".042"/>
<use href="#d" y="938.6" opacity=".042"/>
<use href="#d" y="944.2" opacity=".042"/>
<use href="#d" y="945.3" opacity=".042"/>
<use href="#d" y="947.4" opacity=".042"/>
<use href="#d" y="948.4" opacity=".042"/>
<use href="#d" y="957.1" opacity=".042"/>
<use href="#d" y="959" opacity=".042"/>
<use href="#d" y="960.3" opacity=".042"/>
<use href="#d" y="967.3" opacity=".082"/>
<use href="#d" y="968.8" opacity=".042"/>
<use href="#d" y="970.6" opacity=".042"/>
<use href="#d" y="972.2" opacity=".042"/>
<use href="#d" y="974" opacity=".082"/>
<use href="#d" y="974.5" opacity=".042"/>
<use href="#d" y="976.3" opacity=".042"/>
<use href="#d" y="980.9" opacity=".082"/>
<use href="#d" y="981.8" opacity=".042"/>
<use href="#d" y="989.7" opacity=".042"/>
<use href="#d" y="991.8" opacity=".042"/>
<use href="#d" y="994" opacity=".042"/>
<use href="#d" y="995.4" opacity=".042"/>
<use href="#d" y="998.5" opacity=".082"/>
<use href="#d" y="999.7" opacity=".082"/>
<use href="#d" y="1004" opacity=".042"/>
<use href="#d" y="1005.3" opacity=".042"/>
<use href="#d" y="1005.6" opacity=".082"/>
<use href="#d" y="1008.8" opacity=".082"/>
<use href="#d" y="1011.2" opacity=".082"/>
<use href="#d" y="1013.3" opacity=".042"/>
<use href="#d" y="1014.3" opacity=".042"/>
<use href="#d" y="1017.1" opacity=".042"/>
<use href="#d" y="1028.4" opacity=".042"/>
<use href="#d" y="1030.5" opacity=".042"/>
<use href="#d" y="1034.2" opacity=".042"/>
<use href="#d" y="1034.8" opacity=".082"/>
<use href="#d" y="1042.4" opacity=".042"/>
<use href="#d" y="1042.9" opacity=".042"/>
<use href="#d" y="1057.3" opacity=".042"/>
<use href="#d" y="1061.2" opacity=".082"/>
<use href="#d" y="1062.9" opacity=".082"/>
<use href="#d" y="1066.3" opacity=".042"/>
<use href="#d" y="1073.5" opacity=".042"/>
<use href="#d" y="1075.4" opacity=".042"/>
<use href="#d" y="1078.1" opacity=".042"/>
<use href="#d" y="1081.4" opacity=".042"/>
<use href="#d" y="1083.2" opacity=".042"/>
<use href="#d" y="1084.7" opacity=".042"/>
<use href="#d" y="1087.5" opacity=".082"/>
<use href="#d" y="1088.1" opacity=".042"/>
<use href="#d" y="1098.5" opacity=".042"/>
<use href="#d" y="1104.7" opacity=".042"/>
<use href="#d" y="1106.1" opacity=".042"/>
<use href="#d" y="1108" opacity=".042"/>
<use href="#d" y="1116.3" opacity=".05"/>
<use href="#d" y="1128.2" opacity=".05"/>
<use href="#d" y="1142" opacity=".04"/>
<use href="#d" y="1153" opacity=".06"/>
<use href="#d" y="1158" opacity=".06"/>
<use href="#d" y="1165.6" opacity=".05"/>
<use href="#d" y="1184.3" opacity=".2"/>
</g>
<g stroke="#000" fill="none">
<line x1="354.28" y1="487.8" x2="354.28" y2="575" stroke-width="3"/>
<line x1="296.28" y1="487.8" x2="412.28" y2="487.8" stroke-width="3.4" stroke-linecap="round"/>
<line x1="296.28" y1="575" x2="412.28" y2="575" stroke-width="3.4" stroke-linecap="round"/>
<rect x="238.18" y="520.4" width="232.2" height="21.7" fill="#F4776D" stroke-width="3.4" stroke-linejoin="round"/>
<line x1="238.18" y1="532" x2="470.38" y2="532" stroke-width="3.6"/>
<rect x="350.28" y="528.2" width="8" height="8" stroke-width="0.8"/>
</g>
<g stroke="#000" fill="none">
<line x1="717.25" y1="487.8" x2="717.25" y2="575" stroke-width="3"/>
<line x1="659.25" y1="487.8" x2="775.25" y2="487.8" stroke-width="3.4" stroke-linecap="round"/>
<line x1="659.25" y1="575" x2="775.25" y2="575" stroke-width="3.4" stroke-linecap="round"/>
<rect x="601.15" y="520.4" width="232.2" height="21.7" fill="#1FA8C4" stroke-width="3.4" stroke-linejoin="round"/>
<line x1="601.15" y1="532" x2="833.35" y2="532" stroke-width="3.6"/>
<rect x="713.25" y="528.2" width="8" height="8" stroke-width="0.8"/>
</g>
<g stroke="#000" fill="none">
<line x1="1080.22" y1="487.8" x2="1080.22" y2="575" stroke-width="3"/>
<line x1="1022.22" y1="487.8" x2="1138.22" y2="487.8" stroke-width="3.4" stroke-linecap="round"/>
<line x1="1022.22" y1="575" x2="1138.22" y2="575" stroke-width="3.4" stroke-linecap="round"/>
<rect x="964.12" y="520.4" width="232.2" height="21.7" fill="#F4776D" stroke-width="3.4" stroke-linejoin="round"/>
<line x1="964.12" y1="532" x2="1196.32" y2="532" stroke-width="3.6"/>
<rect x="1076.22" y="528.2" width="8" height="8" stroke-width="0.8"/>
</g>
<g stroke="#000" fill="none">
<line x1="1443.18" y1="487.8" x2="1443.18" y2="575" stroke-width="3"/>
<line x1="1385.18" y1="487.8" x2="1501.18" y2="487.8" stroke-width="3.4" stroke-linecap="round"/>
<line x1="1385.18" y1="575" x2="1501.18" y2="575" stroke-width="3.4" stroke-linecap="round"/>
<rect x="1327.08" y="520.4" width="232.2" height="21.7" fill="#1FA8C4" stroke-width="3.4" stroke-linejoin="round"/>
<line x1="1327.08" y1="532" x2="1559.28" y2="532" stroke-width="3.6"/>
<rect x="1439.18" y="528.2" width="8" height="8" stroke-width="0.8"/>
</g>
<g stroke="#000" fill="none">
<line x1="1806.15" y1="487.8" x2="1806.15" y2="575" stroke-width="3"/>
<line x1="1748.15" y1="487.8" x2="1864.15" y2="487.8" stroke-width="3.4" stroke-linecap="round"/>
<line x1="1748.15" y1="575" x2="1864.15" y2="575" stroke-width="3.4" stroke-linecap="round"/>
<rect x="1690.05" y="520.4" width="232.2" height="21.7" fill="#F4776D" stroke-width="3.4" stroke-linejoin="round"/>
<line x1="1690.05" y1="532" x2="1922.25" y2="532" stroke-width="3.6"/>
<rect x="1802.15" y="528.2" width="8" height="8" stroke-width="0.8"/>
</g>
<g stroke="#000" fill="none">
<line x1="2169.12" y1="487.8" x2="2169.12" y2="575" stroke-width="3"/>
<line x1="2111.12" y1="487.8" x2="2227.12" y2="487.8" stroke-width="3.4" stroke-linecap="round"/>
<line x1="2111.12" y1="575" x2="2227.12" y2="575" stroke-width="3.4" stroke-linecap="round"/>
<rect x="2053.02" y="520.4" width="232.2" height="21.7" fill="#1FA8C4" stroke-width="3.4" stroke-linejoin="round"/>
<line x1="2053.02" y1="532" x2="2285.22" y2="532" stroke-width="3.6"/>
<rect x="2165.12" y="528.2" width="8" height="8" stroke-width="0.8"/>
</g>
<g stroke="#000" stroke-width="3.6" fill="none">
<rect x="172.8" y="18.9" width="2177.8" height="1293"/>
<rect x="172.8" y="1390.1" width="2177.8" height="744.1"/>
<line x1="172.8" y1="148.2" x2="182.8" y2="148.2"/>
<line x1="2350.6" y1="148.2" x2="2340.6" y2="148.2"/>
<line x1="172.8" y1="277.5" x2="192.3" y2="277.5"/>
<line x1="2350.6" y1="277.5" x2="2331.1" y2="277.5"/>
<line x1="172.8" y1="406.8" x2="182.8" y2="406.8"/>
<line x1="2350.6" y1="406.8" x2="2340.6" y2="406.8"/>
<line x1="172.8" y1="536.1" x2="192.3" y2="536.1"/>
<line x1="2350.6" y1="536.1" x2="2331.1" y2="536.1"/>
<line x1="172.8" y1="665.4" x2="182.8" y2="665.4"/>
<line x1="2350.6" y1="665.4" x2="2340.6" y2="665.4"/>
<line x1="172.8" y1="794.7" x2="192.3" y2="794.7"/>
<line x1="2350.6" y1="794.7" x2="2331.1" y2="794.7"/>
<line x1="172.8" y1="924" x2="182.8" y2="924"/>
<line x1="2350.6" y1="924" x2="2340.6" y2="924"/>
<line x1="172.8" y1="1053.3" x2="192.3" y2="1053.3"/>
<line x1="2350.6" y1="1053.3" x2="2331.1" y2="1053.3"/>
<line x1="172.8" y1="1182.6" x2="182.8" y2="1182.6"/>
<line x1="2350.6" y1="1182.6" x2="2340.6" y2="1182.6"/>
<line x1="172.8" y1="2041.19" x2="182.8" y2="2041.19"/>
<line x1="2350.6" y1="2041.19" x2="2340.6" y2="2041.19"/>
<line x1="172.8" y1="1948.17" x2="192.3" y2="1948.17"/>
<line x1="2350.6" y1="1948.17" x2="2331.1" y2="1948.17"/>
<line x1="172.8" y1="1855.16" x2="182.8" y2="1855.16"/>
<line x1="2350.6" y1="1855.16" x2="2340.6" y2="1855.16"/>
<line x1="172.8" y1="1762.15" x2="192.3" y2="1762.15"/>
<line x1="2350.6" y1="1762.15" x2="2331.1" y2="1762.15"/>
<line x1="172.8" y1="1669.14" x2="182.8" y2="1669.14"/>
<line x1="2350.6" y1="1669.14" x2="2340.6" y2="1669.14"/>
<line x1="172.8" y1="1576.12" x2="192.3" y2="1576.12"/>
<line x1="2350.6" y1="1576.12" x2="2331.1" y2="1576.12"/>
<line x1="172.8" y1="1483.11" x2="182.8" y2="1483.11"/>
<line x1="2350.6" y1="1483.11" x2="2340.6" y2="1483.11"/>
<line x1="354.28" y1="18.9" x2="354.28" y2="38.4"/>
<line x1="354.28" y1="1311.9" x2="354.28" y2="1292.4"/>
<line x1="354.28" y1="1390.1" x2="354.28" y2="1409.6"/>
<line x1="354.28" y1="2134.2" x2="354.28" y2="2114.7"/>
<line x1="535.77" y1="1390.1" x2="535.77" y2="1400.1"/>
<line x1="717.25" y1="18.9" x2="717.25" y2="38.4"/>
<line x1="717.25" y1="1311.9" x2="717.25" y2="1292.4"/>
<line x1="717.25" y1="1390.1" x2="717.25" y2="1409.6"/>
<line x1="717.25" y1="2134.2" x2="717.25" y2="2114.7"/>
<line x1="898.73" y1="1390.1" x2="898.73" y2="1400.1"/>
<line x1="1080.22" y1="18.9" x2="1080.22" y2="38.4"/>
<line x1="1080.22" y1="1311.9" x2="1080.22" y2="1292.4"/>
<line x1="1080.22" y1="1390.1" x2="1080.22" y2="1409.6"/>
<line x1="1080.22" y1="2134.2" x2="1080.22" y2="2114.7"/>
<line x1="1261.7" y1="1390.1" x2="1261.7" y2="1400.1"/>
<line x1="1443.18" y1="18.9" x2="1443.18" y2="38.4"/>
<line x1="1443.18" y1="1311.9" x2="1443.18" y2="1292.4"/>
<line x1="1443.18" y1="1390.1" x2="1443.18" y2="1409.6"/>
<line x1="1443.18" y1="2134.2" x2="1443.18" y2="2114.7"/>
<line x1="1624.67" y1="1390.1" x2="1624.67" y2="1400.1"/>
<line x1="1806.15" y1="18.9" x2="1806.15" y2="38.4"/>
<line x1="1806.15" y1="1311.9" x2="1806.15" y2="1292.4"/>
<line x1="1806.15" y1="1390.1" x2="1806.15" y2="1409.6"/>
<line x1="1806.15" y1="2134.2" x2="1806.15" y2="2114.7"/>
<line x1="1987.63" y1="1390.1" x2="1987.63" y2="1400.1"/>
<line x1="2169.12" y1="18.9" x2="2169.12" y2="38.4"/>
<line x1="2169.12" y1="1311.9" x2="2169.12" y2="1292.4"/>
<line x1="2169.12" y1="1390.1" x2="2169.12" y2="1409.6"/>
<line x1="2169.12" y1="2134.2" x2="2169.12" y2="2114.7"/>
</g>
<g class="tk" text-anchor="end">
<text transform="translate(151 32.1)">1.0</text>
<text transform="translate(151 290.7)">0.5</text>
<text transform="translate(151 549.3)">0.0</text>
<text transform="translate(151 807.9)">−0.5</text>
<text transform="translate(151 1066.5)">−1.0</text>
<text transform="translate(151 1325.1)">−1.5</text>
<text transform="translate(151 2147.4)">0</text>
<text transform="translate(151 1961.37)">30</text>
<text transform="translate(151 1775.35)">60</text>
<text transform="translate(151 1589.33)">90</text>
<text transform="translate(151 1403.3)">120</text>
</g>
<g class="tk" text-anchor="start">
<text transform="translate(2372.5 2147.4)">0.0</text>
<text transform="translate(2372.5 1961.37)">0.4</text>
<text transform="translate(2372.5 1775.35)">0.8</text>
<text transform="translate(2372.5 1589.33)">1.2</text>
<text transform="translate(2372.5 1403.3)">1.6</text>
</g>
<g class="tk" text-anchor="middle">
<text transform="translate(354.28 2190.1) scale(1 1.01)">NN15s</text>
<text transform="translate(717.25 2190.1) scale(1 1.01)">SIO15s</text>
<text transform="translate(1080.22 2190.1) scale(1 1.01)">NN30s</text>
<text transform="translate(1443.18 2190.1) scale(1 1.01)">SIO30s</text>
<text transform="translate(1806.15 2190.1) scale(1 1.01)">NN1m</text>
<text transform="translate(2169.12 2190.1) scale(1 1.01)">SIO1m</text>
</g>
<g class="ax" text-anchor="middle">
<text transform="translate(48.3 666.3) rotate(-90) scale(1 1.01)">Difference(km)</text>
<text transform="translate(39.8 1762.7) rotate(-90) scale(1 1.01)">RMSE(m)</text>
<text transform="translate(2488.5 1762.7) rotate(-90) scale(1 1.01)">MRE(%)</text>
</g>
<g class="pl">
<text transform="translate(193.6 88.2) scale(1 1.01)">(a)</text>
<text transform="translate(193.6 1460.2) scale(1 1.01)">(b)</text>
</g>
<rect x="2019.1" y="1416.8" width="276.3" height="106.2" fill="#fff" stroke="#3C3C40" stroke-width="1.5" stroke-linejoin="round"/>
<rect x="2025.4" y="1423.5" width="88" height="43.2" fill="#FFCC99" stroke="#3C3C40" stroke-width="2.4" stroke-linejoin="round"/>
<rect x="2025.4" y="1473.4" width="88" height="43.2" fill="#9EDC9E" stroke="#3C3C40" stroke-width="2.4" stroke-linejoin="round"/>
<g class="lg"><text transform="translate(2124.2 1458.3) scale(1 1.01)">RMSE(m)</text><text transform="translate(2124.2 1508.4) scale(1 1.01)">MRE(%)</text></g>
</svg></body></html>
